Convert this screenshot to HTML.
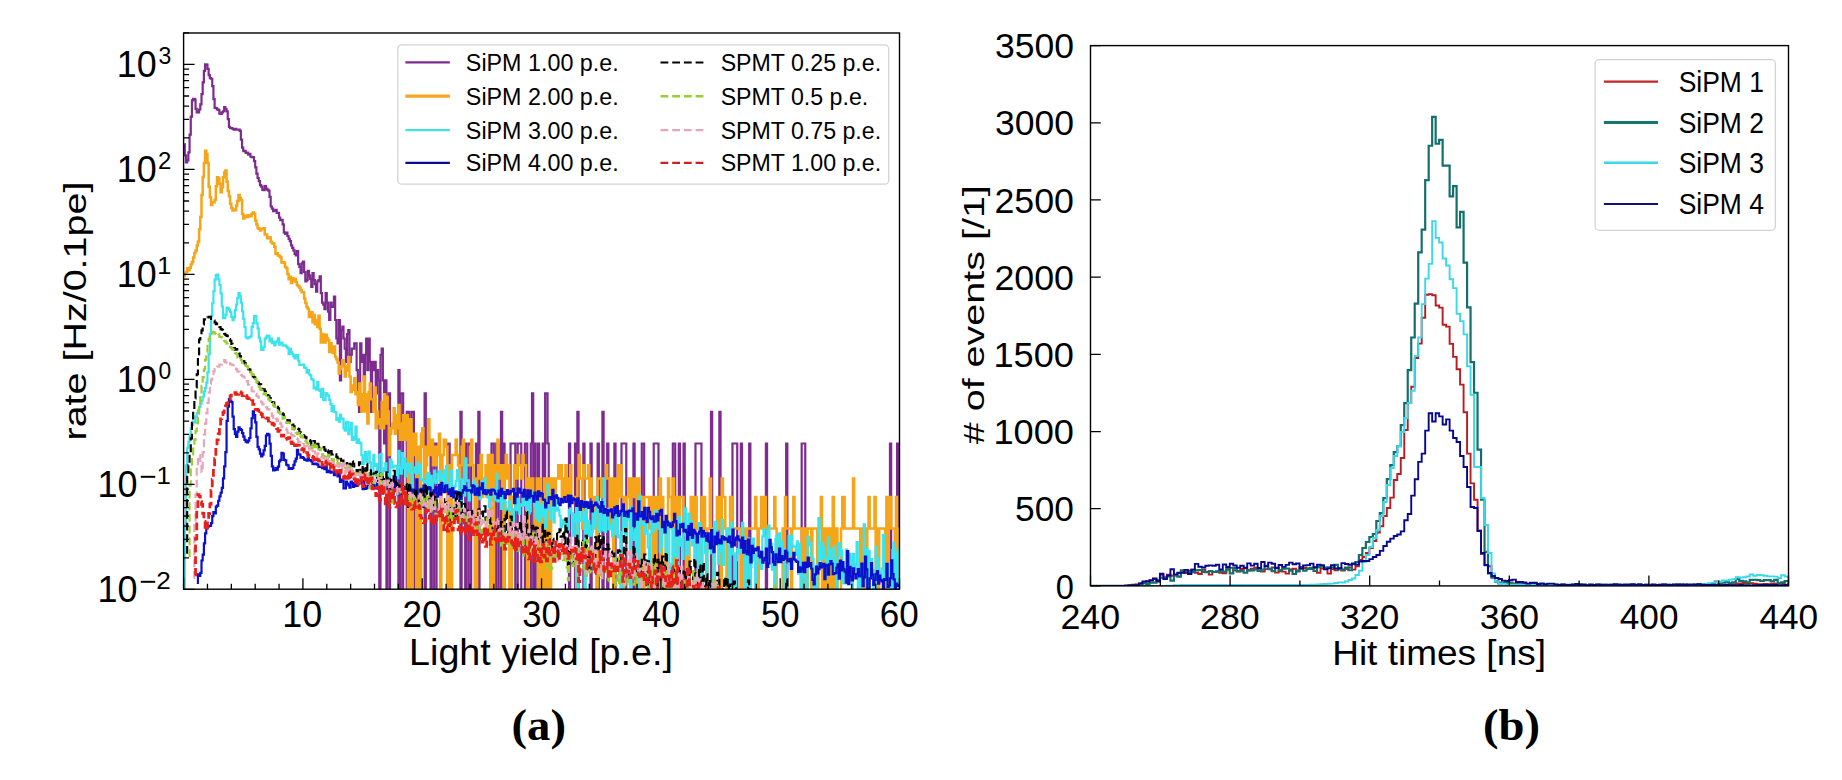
<!DOCTYPE html><html><head><meta charset="utf-8"><title>Figure</title><style>html,body{margin:0;padding:0;background:#fff;}svg{display:block;}</style></head><body><svg width="1842" height="780" viewBox="0 0 1842 780">
<rect x="0" y="0" width="1842" height="780" fill="#fff"/>
<defs><clipPath id="cl"><rect x="183.6" y="33.0" width="715.9" height="556.2"/></clipPath><clipPath id="cr"><rect x="1090.5" y="45.6" width="698.0" height="540.3"/></clipPath></defs>
<g clip-path="url(#cl)" fill="none" stroke-linejoin="miter" stroke-linecap="butt">
<path d="M184.40,144.11H184.79V155.31H185.99V162.36H187.18V160.29H188.37V152.35H189.57V134.70H190.76V116.59H191.95V100.36H193.15V98.86H194.34V99.36H195.53V108.82H196.73V112.46H197.92V112.49H199.11V109.48H200.30V104.37H201.50V94.12H202.69V82.39H203.88V70.86H205.08V64.47H206.27V64.67H207.46V68.94H208.66V75.16H209.85V78.12H211.04V78.73H212.24V86.06H213.43V99.21H214.62V107.80H215.82V108.18H217.01V109.35H218.20V109.95H219.40V113.69H220.59V113.85H221.78V112.36H222.98V111.25H224.17V106.99H225.36V109.01H226.56V111.40H227.75V119.22H228.94V126.90H230.13V128.08H231.33V128.11H232.52V128.99H233.71V129.54H234.91V128.75H236.10V129.51H237.29V129.69H238.49V129.63H239.68V130.94H240.87V139.64H242.07V147.63H243.26V151.03H244.45V150.80H245.65V152.99H246.84V152.67H248.03V154.71H249.23V153.76H250.42V156.77H251.61V157.09H252.81V157.02H254.00V161.12H255.19V167.43H256.39V173.59H257.58V178.01H258.77V181.16H259.96V185.18H261.16V186.69H262.35V189.90H263.54V190.17H264.74V186.20H265.93V188.51H267.12V189.53H268.32V190.57H269.51V196.80H270.70V206.48H271.90V208.56H273.09V211.20H274.28V210.49H275.48V209.73H276.67V212.83H277.86V212.73H279.06V217.61H280.25V220.07H281.44V219.85H282.64V224.29H283.83V232.44H285.02V233.95H286.22V232.71H287.41V236.02H288.60V238.93H289.79V241.15H290.99V245.36H292.18V247.85H293.37V250.42H294.57V253.85H295.76V255.30H296.95V251.09H298.15V264.21H299.34V266.97H300.53V273.06H301.73V263.32H302.92V261.60H304.11V271.99H305.31V281.37H306.50V280.09H307.69V270.94H308.89V275.28H310.08V278.84H311.27V286.91H312.47V273.06H313.66V280.09H314.85V284.06H316.05V291.55H317.24V281.37H318.43V280.09H319.62V276.44H320.82V293.21H322.01V302.55H323.20V304.67H324.40V309.23H325.59V293.21H326.78V302.55H327.98V311.70H329.17V320.01H330.36V302.55H331.56V306.89H332.75V306.89H333.94V296.72H335.14V320.01H336.33V338.50H337.52V343.30H338.72V320.01H339.91V380.28H341.10V330.19H342.30V326.54H343.49V338.50H344.68V348.68H345.88V361.79H347.07V334.15H348.26V330.19H349.45V361.79H350.65V354.76H351.84V348.68H353.03V348.68H354.23V343.30H355.42V343.30H356.61V370.11H357.81V393.40H359.00V411.89H360.19V343.30H361.39V361.79H362.58V354.76H363.77V380.28H364.97V354.76H366.16V338.50H367.35V370.11H368.55V338.50H369.74V361.79H370.93V411.89H372.13V361.79H373.32V370.11H374.51V361.79H375.71V393.40H376.90V370.11H378.09V380.28H379.28V640.00H380.48V354.76H381.67V348.68H382.86V380.28H384.06V443.50H385.25V380.28H386.44V640.00H387.64V411.89H388.83V393.40H390.02V640.00H391.22V640.00H392.41V640.00H393.60V640.00H394.80V640.00H395.99V640.00H397.18V640.00H398.38V370.11H399.57V640.00H400.76V393.40H401.96V393.40H403.15V640.00H404.34V640.00H405.54V640.00H406.73V411.89H407.92V411.89H409.11V640.00H410.31V640.00H411.50V411.89H412.69V411.89H413.89V640.00H415.08V640.00H416.27V640.00H417.47V640.00H418.66V640.00H419.85V640.00H421.05V640.00H422.24V640.00H423.43V640.00H424.63V393.40H425.82V640.00H427.01V640.00H428.21V640.00H429.40V640.00H430.59V443.50H431.79V640.00H432.98V640.00H434.17V443.50H435.37V443.50H436.56V640.00H437.75V640.00H438.94V640.00H440.14V640.00H441.33V640.00H442.52V640.00H443.72V640.00H444.91V640.00H446.10V640.00H447.30V443.50H448.49V443.50H449.68V640.00H450.88V640.00H452.07V640.00H453.26V640.00H454.46V640.00H455.65V640.00H456.84V640.00H458.04V640.00H459.23V640.00H460.42V411.89H461.62V640.00H462.81V640.00H464.00V640.00H465.20V443.50H466.39V640.00H467.58V640.00H468.77V443.50H469.97V443.50H471.16V640.00H472.35V640.00H473.55V640.00H474.74V640.00H475.93V443.50H477.13V640.00H478.32V411.89H479.51V640.00H480.71V640.00H481.90V640.00H483.09V640.00H484.29V640.00H485.48V640.00H486.67V640.00H487.87V640.00H489.06V640.00H490.25V640.00H491.45V443.50H492.64V443.50H493.83V640.00H495.03V640.00H496.22V443.50H497.41V443.50H498.60V640.00H499.80V640.00H500.99V411.89H502.18V640.00H503.38V443.50H504.57V640.00H505.76V640.00H506.96V640.00H508.15V640.00H509.34V640.00H510.54V443.50H511.73V443.50H512.92V443.50H514.12V443.50H515.31V640.00H516.50V640.00H517.70V443.50H518.89V443.50H520.08V443.50H521.28V640.00H522.47V640.00H523.66V640.00H524.86V443.50H526.05V443.50H527.24V640.00H528.43V640.00H529.63V640.00H530.82V443.50H532.01V393.40H533.21V640.00H534.40V443.50H535.59V640.00H536.79V640.00H537.98V443.50H539.17V640.00H540.37V640.00H541.56V640.00H542.75V443.50H543.95V640.00H545.14V393.40H546.33V393.40H547.53V443.50H548.72V640.00H549.91V640.00H551.11V640.00H552.30V640.00H553.49V640.00H554.69V640.00H555.88V640.00H557.07V640.00H558.26V640.00H559.46V640.00H560.65V640.00H561.84V640.00H563.04V640.00H564.23V640.00H565.42V640.00H566.62V640.00H567.81V640.00H569.00V443.50H570.20V640.00H571.39V640.00H572.58V640.00H573.78V640.00H574.97V443.50H576.16V640.00H577.36V411.89H578.55V640.00H579.74V640.00H580.94V640.00H582.13V640.00H583.32V443.50H584.52V640.00H585.71V640.00H586.90V640.00H588.09V640.00H589.29V640.00H590.48V443.50H591.67V640.00H592.87V640.00H594.06V640.00H595.25V640.00H596.45V640.00H597.64V443.50H598.83V640.00H600.03V640.00H601.22V640.00H602.41V411.89H603.61V640.00H604.80V640.00H605.99V640.00H607.19V443.50H608.38V640.00H609.57V640.00H610.77V640.00H611.96V640.00H613.15V640.00H614.35V443.50H615.54V640.00H616.73V640.00H617.92V640.00H619.12V640.00H620.31V640.00H621.50V443.50H622.70V443.50H623.89V443.50H625.08V443.50H626.28V640.00H627.47V640.00H628.66V640.00H629.86V640.00H631.05V640.00H632.24V640.00H633.44V443.50H634.63V640.00H635.82V640.00H637.02V640.00H638.21V640.00H639.40V640.00H640.60V640.00H641.79V443.50H642.98V443.50H644.18V640.00H645.37V640.00H646.56V640.00H647.75V640.00H648.95V640.00H650.14V640.00H651.33V640.00H652.53V640.00H653.72V443.50H654.91V443.50H656.11V443.50H657.30V443.50H658.49V640.00H659.69V640.00H660.88V640.00H662.07V640.00H663.27V640.00H664.46V640.00H665.65V640.00H666.85V640.00H668.04V640.00H669.23V640.00H670.43V640.00H671.62V640.00H672.81V443.50H674.01V443.50H675.20V640.00H676.39V640.00H677.58V640.00H678.78V443.50H679.97V640.00H681.16V640.00H682.36V640.00H683.55V443.50H684.74V640.00H685.94V640.00H687.13V640.00H688.32V640.00H689.52V640.00H690.71V640.00H691.90V640.00H693.10V640.00H694.29V640.00H695.48V443.50H696.68V443.50H697.87V443.50H699.06V443.50H700.26V443.50H701.45V640.00H702.64V640.00H703.84V640.00H705.03V640.00H706.22V640.00H707.41V640.00H708.61V640.00H709.80V640.00H710.99V411.89H712.19V640.00H713.38V640.00H714.57V640.00H715.77V640.00H716.96V640.00H718.15V640.00H719.35V411.89H720.54V640.00H721.73V640.00H722.93V640.00H724.12V640.00H725.31V640.00H726.51V640.00H727.70V640.00H728.89V640.00H730.09V640.00H731.28V640.00H732.47V443.50H733.67V443.50H734.86V443.50H736.05V443.50H737.24V640.00H738.44V640.00H739.63V640.00H740.82V443.50H742.02V640.00H743.21V640.00H744.40V640.00H745.60V640.00H746.79V640.00H747.98V640.00H749.18V443.50H750.37V640.00H751.56V640.00H752.76V640.00H753.95V640.00H755.14V640.00H756.34V640.00H757.53V640.00H758.72V640.00H759.92V640.00H761.11V640.00H762.30V640.00H763.50V640.00H764.69V640.00H765.88V443.50H767.07V640.00H768.27V640.00H769.46V640.00H770.65V640.00H771.85V640.00H773.04V640.00H774.23V640.00H775.43V640.00H776.62V640.00H777.81V640.00H779.01V640.00H780.20V640.00H781.39V640.00H782.59V640.00H783.78V640.00H784.97V640.00H786.17V443.50H787.36V640.00H788.55V640.00H789.75V640.00H790.94V640.00H792.13V640.00H793.33V640.00H794.52V640.00H795.71V640.00H796.90V640.00H798.10V640.00H799.29V640.00H800.48V640.00H801.68V443.50H802.87V443.50H804.06V443.50H805.26V640.00H806.45V640.00H807.64V640.00H808.84V640.00H810.03V640.00H811.22V640.00H812.42V640.00H813.61V640.00H814.80V640.00H816.00V640.00H817.19V640.00H818.38V640.00H819.58V640.00H820.77V640.00H821.96V640.00H823.16V640.00H824.35V640.00H825.54V640.00H826.73V640.00H827.93V640.00H829.12V640.00H830.31V640.00H831.51V640.00H832.70V640.00H833.89V640.00H835.09V640.00H836.28V640.00H837.47V640.00H838.67V640.00H839.86V640.00H841.05V640.00H842.25V640.00H843.44V640.00H844.63V640.00H845.83V640.00H847.02V640.00H848.21V640.00H849.41V640.00H850.60V640.00H851.79V640.00H852.99V640.00H854.18V640.00H855.37V640.00H856.56V640.00H857.76V640.00H858.95V640.00H860.14V640.00H861.34V640.00H862.53V640.00H863.72V640.00H864.92V640.00H866.11V640.00H867.30V640.00H868.50V640.00H869.69V640.00H870.88V640.00H872.08V640.00H873.27V640.00H874.46V640.00H875.66V640.00H876.85V640.00H878.04V640.00H879.24V640.00H880.43V640.00H881.62V640.00H882.82V640.00H884.01V640.00H885.20V640.00H886.39V640.00H887.59V640.00H888.78V640.00H889.97V443.50H891.17V640.00H892.36V640.00H893.55V640.00H894.75V640.00H895.94V640.00H897.13V443.50H898.33V640.00H899.52" stroke="#7e2b90" stroke-width="2.2"/>
<path d="M184.40,276.07H184.79V273.85H185.99V272.05H187.18V268.33H188.37V270.25H189.57V267.76H190.76V264.54H191.95V261.91H193.15V257.61H194.34V253.01H195.53V250.54H196.73V245.52H197.92V241.55H199.11V229.21H200.30V216.82H201.50V195.06H202.69V177.07H203.88V163.03H205.08V150.70H206.27V154.11H207.46V163.03H208.66V186.79H209.85V197.13H211.04V205.12H212.24V202.28H213.43V202.34H214.62V199.67H215.82V186.34H217.01V177.24H218.20V178.59H219.40V183.81H220.59V192.37H221.78V187.13H222.98V177.37H224.17V172.61H225.36V170.59H226.56V181.69H227.75V190.96H228.94V196.19H230.13V203.86H231.33V207.94H232.52V210.54H233.71V209.42H234.91V210.33H236.10V205.44H237.29V200.89H238.49V195.06H239.68V198.26H240.87V200.07H242.07V213.91H243.26V218.50H244.45V215.70H245.65V216.52H246.84V216.88H248.03V215.26H249.23V215.47H250.42V216.19H251.61V213.63H252.81V212.47H254.00V213.71H255.19V220.39H256.39V224.58H257.58V227.97H258.77V228.78H259.96V230.47H261.16V228.94H262.35V228.98H263.54V228.35H264.74V234.62H265.93V234.47H267.12V238.19H268.32V237.33H269.51V237.62H270.70V241.82H271.90V243.29H273.09V243.61H274.28V246.64H275.48V253.90H276.67V253.27H277.86V255.39H279.06V256.01H280.25V257.13H281.44V262.39H282.64V262.27H283.83V262.79H285.02V267.11H286.22V268.30H287.41V273.88H288.60V279.21H289.79V276.74H290.99V283.11H292.18V278.25H293.37V281.02H294.57V278.88H295.76V282.00H296.95V285.17H298.15V286.16H299.34V287.74H300.53V290.20H301.73V292.14H302.92V292.18H304.11V298.60H305.31V303.07H306.50V307.08H307.69V308.63H308.89V316.88H310.08V312.33H311.27V312.15H312.47V322.26H313.66V314.92H314.85V324.13H316.05V319.99H317.24V326.88H318.43V315.84H319.62V328.68H320.82V342.56H322.01V334.12H323.20V335.42H324.40V342.56H325.59V334.76H326.78V338.14H327.98V340.30H329.17V351.97H330.36V343.34H331.56V348.32H332.75V352.93H333.94V346.60H335.14V356.99H336.33V359.16H337.52V362.62H338.72V373.40H339.91V369.06H341.10V366.37H342.30V360.28H343.49V363.84H344.68V376.55H345.88V370.46H347.07V366.37H348.26V356.99H349.45V376.55H350.65V391.89H351.84V385.52H353.03V389.67H354.23V378.21H355.42V394.23H356.61V391.89H357.81V405.01H359.00V383.58H360.19V396.70H361.39V411.54H362.58V394.23H363.77V376.55H364.97V411.54H366.16V394.23H367.35V423.50H368.55V391.89H369.74V383.58H370.93V399.30H372.13V399.30H373.32V411.54H374.51V387.55H375.71V428.30H376.90V411.54H378.09V423.50H379.28V419.15H380.48V428.30H381.67V402.07H382.86V428.30H384.06V394.23H385.25V423.50H386.44V396.70H387.64V411.54H388.83V455.11H390.02V433.68H391.22V428.30H392.41V423.50H393.60V408.16H394.80V433.68H395.99V428.30H397.18V415.19H398.38V405.01H399.57V439.76H400.76V439.76H401.96V423.50H403.15V415.19H404.34V439.76H405.54V423.50H406.73V415.19H407.92V640.00H409.11V423.50H410.31V419.15H411.50V640.00H412.69V433.68H413.89V455.11H415.08V433.68H416.27V640.00H417.47V446.79H418.66V455.11H419.85V640.00H421.05V433.68H422.24V428.30H423.43V446.79H424.63V478.40H425.82V465.28H427.01V446.79H428.21V419.15H429.40V455.11H430.59V455.11H431.79V439.76H432.98V465.28H434.17V446.79H435.37V465.28H436.56V446.79H437.75V455.11H438.94V433.68H440.14V640.00H441.33V478.40H442.52V455.11H443.72V439.76H444.91V439.76H446.10V446.79H447.30V640.00H448.49V640.00H449.68V465.28H450.88V640.00H452.07V455.11H453.26V455.11H454.46V455.11H455.65V439.76H456.84V455.11H458.04V465.28H459.23V478.40H460.42V465.28H461.62V446.79H462.81V439.76H464.00V478.40H465.20V465.28H466.39V465.28H467.58V465.28H468.77V465.28H469.97V446.79H471.16V439.76H472.35V465.28H473.55V478.40H474.74V640.00H475.93V640.00H477.13V478.40H478.32V465.28H479.51V478.40H480.71V455.11H481.90V496.89H483.09V478.40H484.29V478.40H485.48V465.28H486.67V496.89H487.87V455.11H489.06V455.11H490.25V640.00H491.45V455.11H492.64V640.00H493.83V478.40H495.03V465.28H496.22V478.40H497.41V439.76H498.60V478.40H499.80V478.40H500.99V465.28H502.18V496.89H503.38V640.00H504.57V465.28H505.76V455.11H506.96V478.40H508.15V465.28H509.34V640.00H510.54V640.00H511.73V496.89H512.92V496.89H514.12V465.28H515.31V465.28H516.50V478.40H517.70V455.11H518.89V465.28H520.08V465.28H521.28V478.40H522.47V455.11H523.66V465.28H524.86V465.28H526.05V496.89H527.24V640.00H528.43V478.40H529.63V478.40H530.82V496.89H532.01V478.40H533.21V496.89H534.40V528.50H535.59V496.89H536.79V478.40H537.98V640.00H539.17V478.40H540.37V640.00H541.56V496.89H542.75V640.00H543.95V478.40H545.14V496.89H546.33V640.00H547.53V478.40H548.72V478.40H549.91V640.00H551.11V478.40H552.30V478.40H553.49V496.89H554.69V496.89H555.88V478.40H557.07V478.40H558.26V465.28H559.46V478.40H560.65V465.28H561.84V496.89H563.04V478.40H564.23V496.89H565.42V465.28H566.62V496.89H567.81V478.40H569.00V496.89H570.20V465.28H571.39V496.89H572.58V496.89H573.78V496.89H574.97V496.89H576.16V640.00H577.36V478.40H578.55V455.11H579.74V478.40H580.94V478.40H582.13V528.50H583.32V465.28H584.52V478.40H585.71V478.40H586.90V478.40H588.09V465.28H589.29V496.89H590.48V478.40H591.67V496.89H592.87V528.50H594.06V496.89H595.25V496.89H596.45V640.00H597.64V478.40H598.83V478.40H600.03V478.40H601.22V496.89H602.41V478.40H603.61V496.89H604.80V478.40H605.99V465.28H607.19V478.40H608.38V478.40H609.57V528.50H610.77V496.89H611.96V478.40H613.15V640.00H614.35V478.40H615.54V478.40H616.73V528.50H617.92V465.28H619.12V496.89H620.31V465.28H621.50V496.89H622.70V496.89H623.89V528.50H625.08V528.50H626.28V496.89H627.47V496.89H628.66V478.40H629.86V528.50H631.05V478.40H632.24V496.89H633.44V496.89H634.63V478.40H635.82V478.40H637.02V640.00H638.21V478.40H639.40V528.50H640.60V496.89H641.79V640.00H642.98V640.00H644.18V496.89H645.37V496.89H646.56V496.89H647.75V496.89H648.95V528.50H650.14V496.89H651.33V528.50H652.53V640.00H653.72V496.89H654.91V640.00H656.11V528.50H657.30V496.89H658.49V528.50H659.69V478.40H660.88V640.00H662.07V496.89H663.27V528.50H664.46V528.50H665.65V640.00H666.85V528.50H668.04V478.40H669.23V496.89H670.43V496.89H671.62V528.50H672.81V478.40H674.01V496.89H675.20V640.00H676.39V496.89H677.58V528.50H678.78V528.50H679.97V496.89H681.16V496.89H682.36V496.89H683.55V528.50H684.74V528.50H685.94V640.00H687.13V528.50H688.32V640.00H689.52V528.50H690.71V496.89H691.90V496.89H693.10V528.50H694.29V496.89H695.48V496.89H696.68V528.50H697.87V528.50H699.06V640.00H700.26V640.00H701.45V496.89H702.64V528.50H703.84V496.89H705.03V528.50H706.22V640.00H707.41V528.50H708.61V528.50H709.80V478.40H710.99V528.50H712.19V528.50H713.38V640.00H714.57V528.50H715.77V528.50H716.96V496.89H718.15V496.89H719.35V528.50H720.54V640.00H721.73V478.40H722.93V496.89H724.12V496.89H725.31V528.50H726.51V640.00H727.70V640.00H728.89V528.50H730.09V496.89H731.28V496.89H732.47V528.50H733.67V528.50H734.86V528.50H736.05V528.50H737.24V528.50H738.44V528.50H739.63V528.50H740.82V640.00H742.02V640.00H743.21V528.50H744.40V528.50H745.60V640.00H746.79V528.50H747.98V528.50H749.18V528.50H750.37V528.50H751.56V528.50H752.76V528.50H753.95V528.50H755.14V496.89H756.34V528.50H757.53V640.00H758.72V528.50H759.92V528.50H761.11V496.89H762.30V528.50H763.50V528.50H764.69V496.89H765.88V528.50H767.07V528.50H768.27V528.50H769.46V528.50H770.65V528.50H771.85V528.50H773.04V528.50H774.23V496.89H775.43V528.50H776.62V640.00H777.81V640.00H779.01V640.00H780.20V640.00H781.39V640.00H782.59V528.50H783.78V640.00H784.97V496.89H786.17V528.50H787.36V528.50H788.55V528.50H789.75V528.50H790.94V640.00H792.13V528.50H793.33V496.89H794.52V528.50H795.71V528.50H796.90V528.50H798.10V528.50H799.29V528.50H800.48V528.50H801.68V640.00H802.87V528.50H804.06V528.50H805.26V640.00H806.45V640.00H807.64V528.50H808.84V528.50H810.03V528.50H811.22V640.00H812.42V528.50H813.61V528.50H814.80V528.50H816.00V528.50H817.19V640.00H818.38V528.50H819.58V528.50H820.77V496.89H821.96V640.00H823.16V528.50H824.35V528.50H825.54V640.00H826.73V640.00H827.93V528.50H829.12V528.50H830.31V640.00H831.51V640.00H832.70V496.89H833.89V640.00H835.09V640.00H836.28V528.50H837.47V640.00H838.67V640.00H839.86V640.00H841.05V528.50H842.25V496.89H843.44V496.89H844.63V528.50H845.83V528.50H847.02V528.50H848.21V528.50H849.41V528.50H850.60V528.50H851.79V528.50H852.99V478.40H854.18V528.50H855.37V528.50H856.56V528.50H857.76V528.50H858.95V528.50H860.14V640.00H861.34V528.50H862.53V528.50H863.72V640.00H864.92V528.50H866.11V640.00H867.30V528.50H868.50V496.89H869.69V528.50H870.88V528.50H872.08V528.50H873.27V528.50H874.46V496.89H875.66V640.00H876.85V528.50H878.04V640.00H879.24V528.50H880.43V528.50H881.62V528.50H882.82V528.50H884.01V528.50H885.20V640.00H886.39V496.89H887.59V640.00H888.78V528.50H889.97V496.89H891.17V528.50H892.36V528.50H893.55V528.50H894.75V640.00H895.94V496.89H897.13V528.50H898.33V640.00H899.52" stroke="#f6a519" stroke-width="2.5"/>
<path d="M184.60,590.84H184.79V525.25H185.99V465.24H187.18V447.81H188.37V441.95H189.57V436.19H190.76V428.60H191.95V425.12H193.15V421.59H194.34V422.40H195.53V416.65H196.73V413.16H197.92V410.26H199.11V406.95H200.30V403.64H201.50V400.50H202.69V396.76H203.88V391.60H205.08V388.15H206.27V382.59H207.46V372.47H208.66V354.29H209.85V333.83H211.04V315.82H212.24V303.30H213.43V291.13H214.62V279.58H215.82V275.11H217.01V274.50H218.20V279.11H219.40V284.98H220.59V293.40H221.78V306.48H222.98V318.22H224.17V318.18H225.36V314.69H226.56V307.54H227.75V308.44H228.94V309.66H230.13V312.02H231.33V316.78H232.52V320.16H233.71V317.28H234.91V310.22H236.10V304.72H237.29V298.16H238.49V292.98H239.68V295.97H240.87V302.67H242.07V311.32H243.26V318.94H244.45V327.10H245.65V337.27H246.84V338.42H248.03V337.71H249.23V337.20H250.42V336.31H251.61V326.83H252.81V323.17H254.00V316.17H255.19V316.11H256.39V323.41H257.58V328.32H258.77V337.63H259.96V341.29H261.16V349.90H262.35V349.85H263.54V346.96H264.74V338.60H265.93V337.45H267.12V335.69H268.32V336.02H269.51V341.41H270.70V338.61H271.90V343.04H273.09V341.49H274.28V345.49H275.48V342.51H276.67V341.45H277.86V338.43H279.06V344.72H280.25V342.50H281.44V342.76H282.64V345.39H283.83V345.57H285.02V345.28H286.22V346.72H287.41V348.14H288.60V354.13H289.79V348.95H290.99V352.07H292.18V353.87H293.37V356.32H294.57V358.34H295.76V355.16H296.95V355.15H298.15V360.57H299.34V364.82H300.53V364.91H301.73V364.75H302.92V364.59H304.11V367.62H305.31V367.97H306.50V372.56H307.69V369.98H308.89V374.25H310.08V375.37H311.27V379.01H312.47V379.93H313.66V388.39H314.85V387.25H316.05V389.72H317.24V381.82H318.43V389.28H319.62V390.93H320.82V396.84H322.01V388.86H323.20V399.96H324.40V400.14H325.59V393.18H326.78V394.65H327.98V395.67H329.17V399.78H330.36V404.14H331.56V411.21H332.75V406.19H333.94V411.83H335.14V412.18H336.33V419.98H337.52V418.00H338.72V421.69H339.91V414.63H341.10V419.21H342.30V418.52H343.49V428.33H344.68V430.70H345.88V422.43H347.07V421.91H348.26V434.27H349.45V429.45H350.65V422.84H351.84V439.83H353.03V436.90H354.23V439.58H355.42V426.52H356.61V442.98H357.81V439.41H359.00V442.42H360.19V443.04H361.39V455.08H362.58V464.08H363.77V457.59H364.97V452.15H366.16V461.74H367.35V454.45H368.55V451.57H369.74V462.37H370.93V475.68H372.13V476.87H373.32V454.90H374.51V466.02H375.71V463.88H376.90V476.06H378.09V472.00H379.28V455.00H380.48V453.99H381.67V474.37H382.86V470.95H384.06V468.00H385.25V463.33H386.44V472.88H387.64V472.15H388.83V476.66H390.02V459.34H391.22V461.95H392.41V467.60H393.60V465.76H394.80V466.00H395.99V466.52H397.18V478.26H398.38V450.85H399.57V467.51H400.76V473.67H401.96V453.21H403.15V468.03H404.34V458.52H405.54V476.45H406.73V464.14H407.92V465.21H409.11V472.42H410.31V463.69H411.50V491.69H412.69V472.54H413.89V471.39H415.08V467.32H416.27V473.91H417.47V462.24H418.66V472.09H419.85V465.13H421.05V478.98H422.24V481.04H423.43V481.05H424.63V482.51H425.82V474.43H427.01V487.27H428.21V472.85H429.40V493.52H430.59V475.94H431.79V488.14H432.98V480.78H434.17V470.53H435.37V483.02H436.56V480.40H437.75V473.83H438.94V471.23H440.14V478.90H441.33V480.38H442.52V475.19H443.72V470.34H444.91V484.36H446.10V466.15H447.30V489.52H448.49V490.54H449.68V482.78H450.88V471.13H452.07V491.13H453.26V488.40H454.46V486.41H455.65V481.02H456.84V470.03H458.04V474.45H459.23V490.70H460.42V511.12H461.62V479.43H462.81V488.58H464.00V495.53H465.20V458.32H466.39V480.53H467.58V480.47H468.77V500.49H469.97V488.63H471.16V488.06H472.35V488.19H473.55V480.25H474.74V492.94H475.93V484.96H477.13V494.85H478.32V491.07H479.51V499.23H480.71V488.11H481.90V481.07H483.09V483.17H484.29V478.41H485.48V491.56H486.67V496.40H487.87V497.49H489.06V507.11H490.25V489.75H491.45V488.76H492.64V488.75H493.83V497.36H495.03V500.27H496.22V474.12H497.41V501.32H498.60V499.64H499.80V490.89H500.99V508.96H502.18V490.94H503.38V494.94H504.57V501.75H505.76V512.16H506.96V508.23H508.15V510.63H509.34V500.96H510.54V507.99H511.73V516.03H512.92V522.05H514.12V509.12H515.31V498.67H516.50V510.22H517.70V497.16H518.89V513.61H520.08V504.33H521.28V505.66H522.47V492.82H523.66V505.42H524.86V498.22H526.05V509.74H527.24V498.45H528.43V513.69H529.63V511.26H530.82V492.20H532.01V501.70H533.21V501.55H534.40V505.99H535.59V518.15H536.79V502.04H537.98V519.98H539.17V521.56H540.37V506.24H541.56V503.93H542.75V516.35H543.95V507.85H545.14V527.94H546.33V508.21H547.53V484.56H548.72V509.77H549.91V518.73H551.11V507.90H552.30V496.65H553.49V522.35H554.69V495.21H555.88V510.70H557.07V507.93H558.26V509.82H559.46V515.91H560.65V527.23H561.84V524.11H563.04V520.14H564.23V522.08H565.42V530.89H566.62V518.72H567.81V532.06H569.00V510.07H570.20V508.31H571.39V513.43H572.58V535.76H573.78V514.32H574.97V521.83H576.16V506.29H577.36V640.00H578.55V508.87H579.74V520.79H580.94V518.80H582.13V520.41H583.32V511.79H584.52V640.00H585.71V501.55H586.90V535.89H588.09V520.89H589.29V525.64H590.48V535.64H591.67V531.74H592.87V512.33H594.06V527.82H595.25V512.87H596.45V497.04H597.64V524.64H598.83V531.86H600.03V502.07H601.22V517.48H602.41V530.42H603.61V478.58H604.80V531.93H605.99V516.68H607.19V508.80H608.38V529.44H609.57V524.87H610.77V526.56H611.96V536.50H613.15V511.67H614.35V515.76H615.54V534.17H616.73V511.79H617.92V537.38H619.12V535.46H620.31V640.00H621.50V532.08H622.70V510.33H623.89V523.07H625.08V538.57H626.28V514.45H627.47V519.71H628.66V513.60H629.86V640.00H631.05V507.51H632.24V533.32H633.44V539.92H634.63V529.35H635.82V556.01H637.02V514.07H638.21V640.00H639.40V495.74H640.60V518.07H641.79V524.73H642.98V522.91H644.18V533.82H645.37V523.06H646.56V530.83H647.75V547.45H648.95V640.00H650.14V534.03H651.33V517.57H652.53V531.20H653.72V523.32H654.91V511.16H656.11V527.56H657.30V520.79H658.49V528.39H659.69V552.12H660.88V546.74H662.07V524.48H663.27V526.80H664.46V524.02H665.65V552.98H666.85V520.99H668.04V522.21H669.23V640.00H670.43V566.49H671.62V563.65H672.81V529.33H674.01V556.32H675.20V535.19H676.39V531.88H677.58V640.00H678.78V516.76H679.97V545.70H681.16V538.94H682.36V558.81H683.55V534.31H684.74V508.36H685.94V534.99H687.13V554.57H688.32V513.52H689.52V540.30H690.71V521.26H691.90V545.34H693.10V538.21H694.29V561.84H695.48V534.33H696.68V537.30H697.87V640.00H699.06V523.11H700.26V541.89H701.45V640.00H702.64V531.63H703.84V535.35H705.03V552.91H706.22V640.00H707.41V536.53H708.61V538.64H709.80V540.48H710.99V553.08H712.19V542.13H713.38V640.00H714.57V521.83H715.77V523.19H716.96V535.81H718.15V563.60H719.35V551.75H720.54V540.20H721.73V520.16H722.93V564.94H724.12V537.01H725.31V538.52H726.51V528.57H727.70V541.32H728.89V640.00H730.09V537.04H731.28V522.85H732.47V554.40H733.67V553.29H734.86V640.00H736.05V560.09H737.24V548.74H738.44V553.33H739.63V539.91H740.82V548.67H742.02V522.74H743.21V536.74H744.40V640.00H745.60V640.00H746.79V548.50H747.98V538.30H749.18V640.00H750.37V567.01H751.56V560.55H752.76V538.50H753.95V554.43H755.14V640.00H756.34V562.83H757.53V552.08H758.72V556.59H759.92V550.77H761.11V569.02H762.30V536.34H763.50V528.83H764.69V536.21H765.88V558.95H767.07V530.85H768.27V525.62H769.46V550.24H770.65V543.87H771.85V569.62H773.04V551.76H774.23V640.00H775.43V539.17H776.62V535.71H777.81V551.87H779.01V533.45H780.20V554.07H781.39V541.57H782.59V549.17H783.78V640.00H784.97V640.00H786.17V640.00H787.36V564.78H788.55V535.75H789.75V554.93H790.94V535.85H792.13V545.85H793.33V546.60H794.52V546.70H795.71V554.86H796.90V541.36H798.10V573.83H799.29V543.93H800.48V640.00H801.68V565.44H802.87V568.17H804.06V576.98H805.26V640.00H806.45V640.00H807.64V536.64H808.84V545.55H810.03V542.55H811.22V556.77H812.42V559.10H813.61V640.00H814.80V583.75H816.00V640.00H817.19V564.96H818.38V518.07H819.58V543.65H820.77V559.68H821.96V542.89H823.16V547.35H824.35V557.10H825.54V559.70H826.73V575.51H827.93V537.25H829.12V560.56H830.31V549.40H831.51V561.95H832.70V570.36H833.89V546.34H835.09V569.01H836.28V640.00H837.47V557.78H838.67V543.17H839.86V554.89H841.05V550.42H842.25V583.04H843.44V567.07H844.63V583.45H845.83V549.70H847.02V565.42H848.21V565.50H849.41V553.97H850.60V560.43H851.79V587.58H852.99V554.01H854.18V570.36H855.37V564.70H856.56V542.12H857.76V640.00H858.95V568.17H860.14V602.56H861.34V566.51H862.53V573.18H863.72V524.37H864.92V572.15H866.11V548.63H867.30V640.00H868.50V550.87H869.69V561.24H870.88V559.04H872.08V569.86H873.27V640.00H874.46V640.00H875.66V546.66H876.85V558.07H878.04V571.58H879.24V571.58H880.43V579.06H881.62V568.60H882.82V534.92H884.01V640.00H885.20V567.26H886.39V564.55H887.59V578.81H888.78V569.77H889.97V562.59H891.17V640.00H892.36V550.01H893.55V542.54H894.75V582.01H895.94V551.90H897.13V640.00H898.33V547.30H899.52" stroke="#3ae4ee" stroke-width="2.2"/>
<path d="M196.80,582.91H197.92V574.46H199.11V575.93H200.30V572.81H201.50V560.49H202.69V554.59H203.88V543.33H205.08V533.47H206.27V528.07H207.46V526.73H208.66V525.77H209.85V525.90H211.04V523.19H212.24V516.03H213.43V512.02H214.62V513.41H215.82V506.66H217.01V505.54H218.20V500.74H219.40V496.44H220.59V492.76H221.78V487.91H222.98V478.37H224.17V466.46H225.36V452.22H226.56V420.81H227.75V406.55H228.94V399.05H230.13V400.81H231.33V402.08H232.52V416.72H233.71V429.10H234.91V434.13H236.10V436.92H237.29V431.54H238.49V427.47H239.68V429.12H240.87V429.96H242.07V433.15H243.26V436.69H244.45V439.91H245.65V441.77H246.84V442.29H248.03V440.56H249.23V438.02H250.42V428.33H251.61V418.25H252.81V411.40H254.00V415.01H255.19V422.36H256.39V436.91H257.58V446.81H258.77V449.34H259.96V453.61H261.16V456.39H262.35V454.66H263.54V450.33H264.74V445.90H265.93V435.49H267.12V433.96H268.32V434.61H269.51V443.54H270.70V455.92H271.90V466.28H273.09V470.39H274.28V470.04H275.48V468.03H276.67V469.59H277.86V466.66H279.06V461.32H280.25V459.94H281.44V452.81H282.64V453.61H283.83V459.82H285.02V460.39H286.22V464.73H287.41V465.47H288.60V468.92H289.79V468.22H290.99V468.87H292.18V468.27H293.37V464.94H294.57V461.39H295.76V458.57H296.95V449.78H298.15V454.26H299.34V454.69H300.53V457.58H301.73V457.19H302.92V457.94H304.11V459.59H305.31V459.80H306.50V460.53H307.69V458.42H308.89V460.52H310.08V460.19H311.27V461.41H312.47V464.02H313.66V464.05H314.85V463.71H316.05V464.11H317.24V464.54H318.43V466.91H319.62V466.94H320.82V466.76H322.01V468.18H323.20V466.66H324.40V469.16H325.59V466.57H326.78V472.07H327.98V470.59H329.17V471.35H330.36V472.59H331.56V471.95H332.75V471.96H333.94V475.16H335.14V473.60H336.33V472.19H337.52V476.40H338.72V473.73H339.91V482.00H341.10V479.70H342.30V480.46H343.49V488.46H344.68V488.35H345.88V481.48H347.07V483.52H348.26V485.41H349.45V487.75H350.65V481.65H351.84V482.84H353.03V486.93H354.23V483.83H355.42V485.80H356.61V485.55H357.81V479.65H359.00V480.88H360.19V474.75H361.39V483.28H362.58V489.05H363.77V480.51H364.97V488.92H366.16V488.22H367.35V484.60H368.55V484.89H369.74V485.33H370.93V482.09H372.13V484.27H373.32V485.23H374.51V487.69H375.71V488.45H376.90V483.10H378.09V488.81H379.28V483.21H380.48V485.54H381.67V487.63H382.86V486.40H384.06V486.19H385.25V487.77H386.44V484.99H387.64V484.79H388.83V486.57H390.02V490.91H391.22V487.26H392.41V494.63H393.60V488.73H394.80V477.42H395.99V486.70H397.18V494.45H398.38V488.64H399.57V487.20H400.76V485.79H401.96V493.89H403.15V492.89H404.34V491.86H405.54V491.15H406.73V494.98H407.92V492.80H409.11V485.40H410.31V492.68H411.50V490.54H412.69V489.56H413.89V492.77H415.08V490.13H416.27V479.39H417.47V495.77H418.66V493.91H419.85V489.72H421.05V488.84H422.24V491.06H423.43V485.57H424.63V491.42H425.82V489.49H427.01V489.07H428.21V487.02H429.40V487.95H430.59V494.52H431.79V495.40H432.98V492.38H434.17V490.40H435.37V487.38H436.56V493.28H437.75V496.60H438.94V484.76H440.14V495.07H441.33V482.79H442.52V489.55H443.72V492.26H444.91V485.83H446.10V485.30H447.30V491.63H448.49V494.22H449.68V489.23H450.88V495.94H452.07V488.04H453.26V497.41H454.46V491.32H455.65V491.72H456.84V493.10H458.04V491.98H459.23V497.62H460.42V498.94H461.62V492.73H462.81V490.05H464.00V486.25H465.20V487.79H466.39V490.61H467.58V490.17H468.77V490.35H469.97V490.50H471.16V492.31H472.35V485.36H473.55V486.55H474.74V494.58H475.93V493.48H477.13V488.29H478.32V495.15H479.51V487.70H480.71V489.27H481.90V483.31H483.09V493.35H484.29V490.09H485.48V494.13H486.67V492.75H487.87V490.41H489.06V490.64H490.25V494.63H491.45V489.62H492.64V489.78H493.83V490.75H495.03V493.67H496.22V494.24H497.41V498.14H498.60V490.70H499.80V495.94H500.99V488.78H502.18V493.69H503.38V492.01H504.57V498.27H505.76V494.11H506.96V490.20H508.15V494.24H509.34V493.48H510.54V491.07H511.73V491.28H512.92V488.92H514.12V503.21H515.31V493.29H516.50V496.63H517.70V488.54H518.89V488.97H520.08V492.67H521.28V492.81H522.47V496.58H523.66V489.76H524.86V495.82H526.05V499.70H527.24V490.45H528.43V497.61H529.63V490.53H530.82V495.82H532.01V496.12H533.21V501.68H534.40V492.52H535.59V496.09H536.79V499.72H537.98V491.37H539.17V496.12H540.37V493.01H541.56V493.90H542.75V499.52H543.95V499.83H545.14V507.37H546.33V502.94H547.53V502.84H548.72V497.41H549.91V497.12H551.11V499.07H552.30V489.88H553.49V505.48H554.69V496.61H555.88V495.32H557.07V497.91H558.26V503.36H559.46V505.04H560.65V498.89H561.84V502.28H563.04V500.55H564.23V497.06H565.42V501.85H566.62V501.50H567.81V495.54H569.00V506.13H570.20V495.81H571.39V503.13H572.58V498.27H573.78V499.40H574.97V500.05H576.16V505.82H577.36V498.27H578.55V502.69H579.74V509.79H580.94V501.09H582.13V503.93H583.32V506.90H584.52V502.16H585.71V506.56H586.90V502.26H588.09V507.87H589.29V505.55H590.48V501.78H591.67V511.33H592.87V505.54H594.06V505.01H595.25V502.65H596.45V504.67H597.64V506.37H598.83V507.65H600.03V511.60H601.22V502.16H602.41V506.32H603.61V512.86H604.80V509.01H605.99V510.21H607.19V515.37H608.38V510.47H609.57V511.28H610.77V509.44H611.96V517.28H613.15V514.56H614.35V507.37H615.54V513.01H616.73V506.06H617.92V515.87H619.12V514.37H620.31V511.06H621.50V510.27H622.70V504.47H623.89V515.88H625.08V512.29H626.28V511.70H627.47V516.54H628.66V510.65H629.86V511.25H631.05V511.03H632.24V508.32H633.44V525.53H634.63V514.05H635.82V513.60H637.02V519.57H638.21V501.29H639.40V515.85H640.60V516.40H641.79V512.19H642.98V519.18H644.18V507.92H645.37V517.75H646.56V522.20H647.75V507.85H648.95V511.79H650.14V518.21H651.33V519.17H652.53V516.44H653.72V521.58H654.91V521.32H656.11V513.91H657.30V520.28H658.49V514.84H659.69V511.21H660.88V509.84H662.07V527.11H663.27V521.73H664.46V532.44H665.65V515.73H666.85V521.60H668.04V525.43H669.23V523.35H670.43V527.01H671.62V525.61H672.81V522.14H674.01V513.75H675.20V521.21H676.39V535.37H677.58V530.87H678.78V534.48H679.97V524.69H681.16V527.15H682.36V523.97H683.55V531.04H684.74V529.73H685.94V532.21H687.13V539.59H688.32V526.16H689.52V534.98H690.71V523.90H691.90V537.78H693.10V529.84H694.29V532.24H695.48V533.77H696.68V542.42H697.87V533.65H699.06V531.48H700.26V528.12H701.45V536.64H702.64V530.80H703.84V533.20H705.03V536.32H706.22V540.71H707.41V533.33H708.61V541.64H709.80V548.39H710.99V530.19H712.19V547.03H713.38V552.09H714.57V536.67H715.77V544.13H716.96V532.87H718.15V543.15H719.35V539.48H720.54V543.45H721.73V536.42H722.93V537.20H724.12V539.66H725.31V538.28H726.51V539.05H727.70V541.79H728.89V536.48H730.09V542.57H731.28V546.65H732.47V529.67H733.67V545.38H734.86V539.75H736.05V537.62H737.24V536.41H738.44V539.70H739.63V540.56H740.82V547.67H742.02V537.69H743.21V552.60H744.40V541.06H745.60V551.06H746.79V554.04H747.98V539.48H749.18V554.74H750.37V562.45H751.56V545.74H752.76V552.89H753.95V548.64H755.14V550.45H756.34V549.07H757.53V547.38H758.72V555.98H759.92V557.46H761.11V551.93H762.30V562.56H763.50V560.10H764.69V557.89H765.88V548.58H767.07V566.90H768.27V563.33H769.46V539.78H770.65V547.30H771.85V552.03H773.04V562.26H774.23V564.79H775.43V554.43H776.62V558.56H777.81V562.12H779.01V548.51H780.20V562.13H781.39V556.10H782.59V559.97H783.78V558.66H784.97V550.86H786.17V552.53H787.36V560.39H788.55V561.39H789.75V558.88H790.94V568.95H792.13V558.88H793.33V552.89H794.52V559.67H795.71V561.28H796.90V561.96H798.10V571.90H799.29V567.28H800.48V571.61H801.68V568.63H802.87V562.95H804.06V572.24H805.26V562.72H806.45V566.80H807.64V557.63H808.84V566.19H810.03V563.22H811.22V568.73H812.42V579.91H813.61V584.37H814.80V574.39H816.00V566.70H817.19V573.43H818.38V569.16H819.58V563.04H820.77V567.42H821.96V566.24H823.16V563.79H824.35V579.17H825.54V564.76H826.73V565.33H827.93V574.75H829.12V564.31H830.31V561.06H831.51V563.59H832.70V574.05H833.89V573.49H835.09V573.14H836.28V567.53H837.47V564.32H838.67V578.57H839.86V560.70H841.05V570.44H842.25V562.10H843.44V569.44H844.63V571.64H845.83V582.57H847.02V551.13H848.21V584.15H849.41V566.97H850.60V576.36H851.79V580.49H852.99V568.43H854.18V573.81H855.37V578.46H856.56V573.79H857.76V569.15H858.95V576.49H860.14V576.00H861.34V563.57H862.53V586.03H863.72V577.31H864.92V556.71H866.11V569.30H867.30V589.42H868.50V588.52H869.69V578.32H870.88V563.08H872.08V574.58H873.27V584.92H874.46V579.81H875.66V574.21H876.85V571.16H878.04V583.61H879.24V575.55H880.43V579.91H881.62V581.37H882.82V590.59H884.01V579.19H885.20V579.92H886.39V563.80H887.59V586.94H888.78V585.30H889.97V578.25H891.17V560.39H892.36V574.11H893.55V579.33H894.75V595.59H895.94V583.69H897.13V585.44H898.33V585.78H899.52" stroke="#0a10cc" stroke-width="2.2"/>
<path d="M186.10,552.78H187.18V475.79H188.37V465.44H189.57V453.73H190.76V438.38H191.95V422.82H193.15V410.44H194.34V398.39H195.53V387.49H196.73V374.22H197.92V356.93H199.11V339.52H200.30V333.10H201.50V330.35H202.69V324.43H203.88V319.33H205.08V319.75H206.27V317.98H207.46V317.51H208.66V316.72H209.85V316.79H211.04V319.01H212.24V319.73H213.43V320.52H214.62V322.52H215.82V324.07H217.01V323.49H218.20V326.09H219.40V327.00H220.59V329.13H221.78V329.73H222.98V332.27H224.17V333.71H225.36V334.98H226.56V335.88H227.75V337.95H228.94V339.18H230.13V340.75H231.33V343.80H232.52V344.52H233.71V348.13H234.91V349.55H236.10V349.16H237.29V352.76H238.49V353.45H239.68V356.14H240.87V357.93H242.07V358.09H243.26V361.28H244.45V363.05H245.65V365.80H246.84V365.87H248.03V369.19H249.23V369.51H250.42V371.86H251.61V373.04H252.81V376.53H254.00V377.42H255.19V380.60H256.39V380.70H257.58V382.49H258.77V384.09H259.96V384.41H261.16V386.47H262.35V389.34H263.54V389.34H264.74V391.46H265.93V392.85H267.12V395.06H268.32V396.01H269.51V398.08H270.70V400.33H271.90V401.98H273.09V402.56H274.28V405.84H275.48V405.18H276.67V406.80H277.86V408.24H279.06V412.09H280.25V412.25H281.44V413.14H282.64V414.42H283.83V417.28H285.02V416.87H286.22V417.82H287.41V421.08H288.60V420.27H289.79V422.43H290.99V423.98H292.18V424.67H293.37V426.31H294.57V429.12H295.76V428.15H296.95V428.46H298.15V428.96H299.34V432.09H300.53V433.10H301.73V435.05H302.92V435.33H304.11V436.49H305.31V437.35H306.50V438.40H307.69V440.03H308.89V439.99H310.08V441.38H311.27V444.68H312.47V443.36H313.66V441.02H314.85V446.66H316.05V445.25H317.24V443.93H318.43V447.51H319.62V446.79H320.82V446.44H322.01V447.07H323.20V447.14H324.40V449.59H325.59V452.10H326.78V450.44H327.98V452.50H329.17V455.86H330.36V451.03H331.56V454.47H332.75V454.17H333.94V453.48H335.14V454.27H336.33V456.93H337.52V458.41H338.72V457.10H339.91V458.86H341.10V460.79H342.30V460.54H343.49V463.12H344.68V462.46H345.88V463.14H347.07V467.94H348.26V464.76H349.45V463.74H350.65V466.25H351.84V461.31H353.03V463.83H354.23V468.37H355.42V468.40H356.61V472.36H357.81V467.29H359.00V462.26H360.19V475.91H361.39V473.28H362.58V465.36H363.77V475.77H364.97V470.92H366.16V463.78H367.35V470.19H368.55V470.37H369.74V480.14H370.93V470.24H372.13V473.22H373.32V473.69H374.51V473.79H375.71V471.85H376.90V477.79H378.09V482.55H379.28V481.00H380.48V473.88H381.67V473.23H382.86V480.16H384.06V476.45H385.25V477.34H386.44V472.28H387.64V492.16H388.83V487.21H390.02V477.43H391.22V488.36H392.41V491.40H393.60V470.81H394.80V481.77H395.99V483.21H397.18V489.81H398.38V485.82H399.57V485.69H400.76V487.26H401.96V499.36H403.15V501.81H404.34V486.02H405.54V484.09H406.73V506.85H407.92V484.79H409.11V487.82H410.31V492.13H411.50V495.46H412.69V499.43H413.89V495.98H415.08V488.55H416.27V497.80H417.47V496.72H418.66V507.65H419.85V496.07H421.05V488.00H422.24V490.29H423.43V506.88H424.63V494.40H425.82V484.61H427.01V494.99H428.21V499.23H429.40V507.51H430.59V493.38H431.79V504.97H432.98V506.28H434.17V496.73H435.37V500.59H436.56V514.22H437.75V514.37H438.94V508.97H440.14V505.86H441.33V511.82H442.52V503.51H443.72V504.26H444.91V499.41H446.10V505.83H447.30V505.66H448.49V526.03H449.68V505.74H450.88V516.43H452.07V517.22H453.26V506.99H454.46V517.02H455.65V493.61H456.84V510.21H458.04V516.08H459.23V493.08H460.42V502.38H461.62V518.80H462.81V509.69H464.00V503.96H465.20V509.64H466.39V508.79H467.58V518.52H468.77V516.94H469.97V511.92H471.16V509.45H472.35V514.40H473.55V525.13H474.74V518.23H475.93V520.83H477.13V515.29H478.32V507.04H479.51V511.83H480.71V522.61H481.90V518.84H483.09V511.52H484.29V506.41H485.48V520.12H486.67V517.04H487.87V517.35H489.06V517.92H490.25V523.11H491.45V523.60H492.64V529.27H493.83V529.43H495.03V533.05H496.22V529.32H497.41V520.65H498.60V523.30H499.80V528.09H500.99V522.01H502.18V529.33H503.38V534.62H504.57V519.13H505.76V511.57H506.96V536.21H508.15V526.95H509.34V533.04H510.54V516.51H511.73V542.38H512.92V534.50H514.12V527.65H515.31V526.12H516.50V530.43H517.70V528.44H518.89V527.86H520.08V521.04H521.28V541.84H522.47V531.04H523.66V532.41H524.86V532.95H526.05V511.99H527.24V537.52H528.43V530.40H529.63V531.12H530.82V534.67H532.01V525.81H533.21V542.32H534.40V528.98H535.59V527.48H536.79V528.21H537.98V537.78H539.17V543.48H540.37V531.70H541.56V523.71H542.75V547.60H543.95V528.47H545.14V549.65H546.33V538.52H547.53V532.92H548.72V533.82H549.91V544.45H551.11V548.78H552.30V538.89H553.49V550.00H554.69V561.15H555.88V539.70H557.07V531.03H558.26V532.21H559.46V529.26H560.65V536.76H561.84V536.24H563.04V530.70H564.23V549.01H565.42V518.68H566.62V531.54H567.81V564.58H569.00V555.32H570.20V550.58H571.39V550.25H572.58V563.65H573.78V551.68H574.97V547.42H576.16V534.60H577.36V546.53H578.55V540.16H579.74V540.73H580.94V540.93H582.13V548.05H583.32V545.44H584.52V558.08H585.71V535.78H586.90V548.00H588.09V569.33H589.29V550.77H590.48V563.18H591.67V562.88H592.87V565.12H594.06V559.38H595.25V537.35H596.45V549.40H597.64V548.50H598.83V536.35H600.03V548.21H601.22V540.08H602.41V535.88H603.61V556.37H604.80V553.93H605.99V547.26H607.19V544.69H608.38V549.43H609.57V551.33H610.77V551.48H611.96V555.68H613.15V551.77H614.35V561.17H615.54V563.00H616.73V561.49H617.92V550.41H619.12V551.23H620.31V563.32H621.50V556.53H622.70V558.57H623.89V531.16H625.08V529.03H626.28V563.83H627.47V564.06H628.66V576.56H629.86V569.20H631.05V563.78H632.24V561.73H633.44V545.34H634.63V572.41H635.82V555.44H637.02V568.64H638.21V565.43H639.40V566.59H640.60V574.21H641.79V558.24H642.98V559.75H644.18V554.49H645.37V560.47H646.56V585.13H647.75V561.23H648.95V580.09H650.14V576.12H651.33V575.29H652.53V576.51H653.72V555.04H654.91V572.02H656.11V586.94H657.30V559.86H658.49V567.98H659.69V560.61H660.88V573.02H662.07V556.61H663.27V589.20H664.46V565.69H665.65V552.04H666.85V592.37H668.04V582.86H669.23V577.77H670.43V578.28H671.62V567.93H672.81V569.87H674.01V581.58H675.20V584.23H676.39V584.75H677.58V576.44H678.78V568.63H679.97V572.25H681.16V588.21H682.36V592.51H683.55V571.47H684.74V570.17H685.94V591.20H687.13V585.25H688.32V585.26H689.52V561.48H690.71V573.08H691.90V571.72H693.10V580.73H694.29V558.35H695.48V594.16H696.68V582.84H697.87V584.79H699.06V565.69H700.26V580.02H701.45V596.83H702.64V562.46H703.84V585.44H705.03V590.64H706.22V574.42H707.41V592.98H708.61V579.72H709.80V598.92H710.99V590.97H712.19V587.81H713.38V609.70H714.57V596.05H715.77V602.25H716.96V572.75H718.15V579.74H719.35V598.02H720.54V599.32H721.73V588.26H722.93V598.77H724.12V577.19H725.31V592.93H726.51V577.07H727.70V595.41H728.89V585.96H730.09V584.58H731.28V593.43H732.47V615.04H733.67V581.56H734.86V586.96H736.05V607.47H737.24V590.05H738.44V616.85H739.63V598.76H740.82V597.66H742.02V601.33H743.21V618.42H744.40V605.86H745.60V604.68H746.79V601.98H747.98V580.68H749.18V589.29H750.37V618.19H751.56V610.73H752.76V607.41H753.95V609.46H755.14V595.77H756.34V606.83H757.53V592.44H758.72V608.42H759.92V595.64H761.11V602.12H762.30V610.60H763.50V601.72H764.69V613.88H765.88V612.06H767.07V611.38H768.27V623.44H769.46V590.34H770.65V589.35H771.85V616.37H773.04V620.74H774.23V634.07H775.43V619.48H776.62V620.85H777.81V600.77H779.01V620.87H780.20V620.40H781.39V600.13H782.59V602.52H783.78V612.42H784.97V617.69H786.17V579.37H787.36V616.03H788.55V618.43H789.75V614.01H790.94V619.82H792.13V622.56H793.33V605.43H794.52V623.04H795.71V615.51H796.90V607.65H798.10V621.99H799.29V637.81H800.48V602.69H801.68V600.62H802.87V600.86H804.06V644.66H805.26V618.15H806.45V620.70H807.64V612.21H808.84V610.60H810.03V597.80H811.22V624.41H812.42V625.72H813.61V599.12H814.80V610.56H816.00V614.39H817.19V623.25H818.38V626.73H819.58V637.54H820.77V640.65H821.96V637.33H823.16V640.85H824.35V610.99H825.54V618.57H826.73V639.19H827.93V629.17H829.12V626.17H830.31V602.43H831.51V604.11H832.70V635.43H833.89V631.00H835.09V623.58H836.28V622.42H837.47V606.90H838.67V632.31H839.86V640.50H841.05V648.04H842.25V629.16H843.44V626.36H844.63V615.89H845.83V643.96H847.02V650.01H848.21V622.40H849.41V633.49H850.60V631.33H851.79V623.59H852.99V600.75H854.18V626.56H855.37V638.48H856.56V614.11H857.76V621.60H858.95V592.51H860.14V647.56H861.34V638.39H862.53V633.17H863.72V629.62H864.92V625.46H866.11V632.40H867.30V629.86H868.50V630.84H869.69V633.65H870.88V635.80H872.08V653.12H873.27V617.38H874.46V638.16H875.66V627.76H876.85V621.82H878.04V607.31H879.24V643.25H880.43V624.32H881.62V627.33H882.82V642.20H884.01V623.80H885.20V637.35H886.39V636.38H887.59V647.14H888.78V649.88H889.97V627.59H891.17V649.24H892.36V637.31H893.55V640.18H894.75V636.40H895.94V648.49H897.13V624.88H898.33V642.79H899.52" stroke="#000000" stroke-width="2.15" stroke-dasharray="7.8 3.9"/>
<path d="M188.50,555.88H189.57V485.60H190.76V466.16H191.95V454.46H193.15V447.42H194.34V439.73H195.53V431.20H196.73V423.51H197.92V413.65H199.11V404.97H200.30V395.78H201.50V385.89H202.69V377.19H203.88V369.33H205.08V359.73H206.27V352.37H207.46V343.55H208.66V338.81H209.85V333.68H211.04V333.33H212.24V331.91H213.43V332.39H214.62V333.52H215.82V334.09H217.01V333.38H218.20V334.24H219.40V336.88H220.59V336.88H221.78V339.51H222.98V339.83H224.17V340.73H225.36V341.83H226.56V343.79H227.75V344.37H228.94V346.77H230.13V346.90H231.33V348.55H232.52V349.60H233.71V352.04H234.91V353.00H236.10V353.70H237.29V357.41H238.49V356.92H239.68V358.49H240.87V360.26H242.07V362.72H243.26V362.57H244.45V364.63H245.65V365.86H246.84V366.32H248.03V369.84H249.23V371.73H250.42V372.43H251.61V374.32H252.81V374.80H254.00V376.48H255.19V379.14H256.39V382.16H257.58V383.70H258.77V386.85H259.96V389.35H261.16V390.03H262.35V391.90H263.54V394.14H264.74V393.11H265.93V396.40H267.12V395.39H268.32V399.24H269.51V400.68H270.70V401.61H271.90V402.74H273.09V405.40H274.28V406.71H275.48V408.73H276.67V409.14H277.86V412.06H279.06V411.85H280.25V414.04H281.44V415.38H282.64V418.58H283.83V417.05H285.02V419.65H286.22V422.82H287.41V422.24H288.60V423.02H289.79V426.15H290.99V426.75H292.18V429.22H293.37V428.39H294.57V430.86H295.76V432.60H296.95V434.23H298.15V432.88H299.34V437.08H300.53V435.46H301.73V435.86H302.92V437.72H304.11V440.32H305.31V440.88H306.50V442.79H307.69V443.71H308.89V444.31H310.08V444.35H311.27V448.15H312.47V443.14H313.66V444.64H314.85V447.29H316.05V446.97H317.24V445.75H318.43V449.31H319.62V450.20H320.82V448.25H322.01V454.43H323.20V455.96H324.40V456.66H325.59V454.45H326.78V456.36H327.98V454.89H329.17V458.02H330.36V457.19H331.56V459.94H332.75V459.32H333.94V462.69H335.14V463.08H336.33V464.67H337.52V459.89H338.72V460.20H339.91V465.40H341.10V464.20H342.30V466.93H343.49V467.59H344.68V467.79H345.88V470.60H347.07V470.06H348.26V470.37H349.45V466.59H350.65V475.55H351.84V470.94H353.03V474.75H354.23V472.72H355.42V476.49H356.61V473.25H357.81V474.03H359.00V474.30H360.19V471.82H361.39V472.82H362.58V474.89H363.77V475.53H364.97V472.82H366.16V485.97H367.35V473.81H368.55V476.93H369.74V488.24H370.93V476.57H372.13V482.79H373.32V482.94H374.51V479.95H375.71V475.42H376.90V475.38H378.09V482.38H379.28V484.74H380.48V474.19H381.67V484.69H382.86V481.68H384.06V489.07H385.25V486.42H386.44V482.54H387.64V484.77H388.83V487.47H390.02V494.07H391.22V502.66H392.41V490.59H393.60V490.01H394.80V493.37H395.99V490.69H397.18V494.50H398.38V493.87H399.57V492.51H400.76V489.05H401.96V494.38H403.15V498.69H404.34V495.03H405.54V502.94H406.73V500.56H407.92V495.57H409.11V505.81H410.31V491.44H411.50V503.99H412.69V508.16H413.89V497.57H415.08V498.91H416.27V505.00H417.47V508.20H418.66V503.45H419.85V502.92H421.05V507.14H422.24V504.11H423.43V496.60H424.63V502.72H425.82V504.20H427.01V496.48H428.21V507.56H429.40V501.71H430.59V510.57H431.79V498.51H432.98V502.27H434.17V499.67H435.37V515.84H436.56V516.34H437.75V518.02H438.94V518.62H440.14V515.87H441.33V516.36H442.52V501.70H443.72V514.13H444.91V509.76H446.10V511.34H447.30V506.46H448.49V522.16H449.68V515.79H450.88V506.43H452.07V519.02H453.26V515.96H454.46V510.56H455.65V515.56H456.84V513.11H458.04V504.19H459.23V509.39H460.42V522.47H461.62V521.95H462.81V521.98H464.00V513.37H465.20V517.51H466.39V522.23H467.58V526.76H468.77V517.53H469.97V516.66H471.16V531.34H472.35V524.99H473.55V522.64H474.74V520.84H475.93V521.91H477.13V537.14H478.32V533.68H479.51V525.09H480.71V520.09H481.90V540.08H483.09V539.98H484.29V538.11H485.48V536.25H486.67V518.41H487.87V522.95H489.06V536.08H490.25V530.85H491.45V535.09H492.64V530.28H493.83V529.91H495.03V538.81H496.22V532.76H497.41V536.06H498.60V538.42H499.80V538.77H500.99V545.72H502.18V547.66H503.38V528.74H504.57V536.95H505.76V534.67H506.96V545.11H508.15V532.47H509.34V546.14H510.54V546.05H511.73V545.61H512.92V534.77H514.12V540.71H515.31V534.80H516.50V546.05H517.70V550.60H518.89V532.75H520.08V538.29H521.28V543.64H522.47V541.32H523.66V556.89H524.86V545.05H526.05V548.47H527.24V538.60H528.43V559.13H529.63V549.12H530.82V554.19H532.01V549.38H533.21V532.87H534.40V537.27H535.59V540.06H536.79V554.09H537.98V546.91H539.17V554.64H540.37V553.97H541.56V554.12H542.75V559.82H543.95V554.46H545.14V540.46H546.33V548.49H547.53V567.54H548.72V546.18H549.91V566.04H551.11V568.72H552.30V550.96H553.49V558.85H554.69V545.01H555.88V562.96H557.07V550.65H558.26V546.59H559.46V554.39H560.65V554.16H561.84V553.41H563.04V560.17H564.23V557.45H565.42V553.64H566.62V567.39H567.81V580.05H569.00V560.64H570.20V554.48H571.39V552.34H572.58V566.02H573.78V559.16H574.97V561.78H576.16V544.93H577.36V552.58H578.55V552.60H579.74V571.01H580.94V560.87H582.13V542.00H583.32V568.00H584.52V573.98H585.71V575.82H586.90V540.23H588.09V566.40H589.29V572.51H590.48V571.02H591.67V563.90H592.87V550.32H594.06V562.75H595.25V564.04H596.45V572.36H597.64V573.28H598.83V565.67H600.03V575.78H601.22V558.89H602.41V562.54H603.61V568.73H604.80V574.52H605.99V566.64H607.19V581.14H608.38V573.93H609.57V561.71H610.77V571.52H611.96V562.80H613.15V562.37H614.35V558.31H615.54V584.90H616.73V580.66H617.92V557.45H619.12V583.19H620.31V582.07H621.50V569.87H622.70V578.39H623.89V595.18H625.08V576.89H626.28V578.47H627.47V585.47H628.66V565.11H629.86V563.14H631.05V562.02H632.24V575.14H633.44V584.62H634.63V568.12H635.82V563.42H637.02V579.15H638.21V573.90H639.40V583.77H640.60V576.92H641.79V576.71H642.98V578.00H644.18V579.49H645.37V569.88H646.56V568.56H647.75V595.87H648.95V611.20H650.14V591.83H651.33V564.63H652.53V581.53H653.72V593.42H654.91V565.62H656.11V577.25H657.30V578.33H658.49V573.55H659.69V574.62H660.88V593.43H662.07V579.07H663.27V581.60H664.46V601.35H665.65V575.96H666.85V565.59H668.04V591.52H669.23V605.47H670.43V587.72H671.62V588.97H672.81V573.30H674.01V577.08H675.20V601.41H676.39V599.64H677.58V593.20H678.78V581.15H679.97V575.92H681.16V577.64H682.36V576.63H683.55V594.75H684.74V580.98H685.94V584.15H687.13V596.30H688.32V596.35H689.52V590.35H690.71V594.89H691.90V590.41H693.10V571.23H694.29V590.08H695.48V586.88H696.68V587.83H697.87V594.08H699.06V586.27H700.26V604.55H701.45V590.96H702.64V594.72H703.84V596.74H705.03V592.09H706.22V600.68H707.41V602.16H708.61V601.28H709.80V588.21H710.99V586.59H712.19V589.93H713.38V596.40H714.57V577.95H715.77V588.59H716.96V585.89H718.15V591.03H719.35V588.90H720.54V606.69H721.73V603.39H722.93V608.88H724.12V589.77H725.31V592.25H726.51V597.45H727.70V617.44H728.89V618.05H730.09V595.43H731.28V608.33H732.47V623.94H733.67V592.52H734.86V601.32H736.05V616.63H737.24V611.26H738.44V594.43H739.63V620.01H740.82V615.03H742.02V612.51H743.21V593.53H744.40V604.69H745.60V619.93H746.79V612.04H747.98V615.51H749.18V605.21H750.37V623.31H751.56V606.01H752.76V617.93H753.95V612.18H755.14V599.54H756.34V624.32H757.53V597.09H758.72V602.59H759.92V611.63H761.11V596.39H762.30V592.63H763.50V609.77H764.69V606.92H765.88V608.69H767.07V616.71H768.27V634.56H769.46V608.01H770.65V636.93H771.85V615.09H773.04V611.95H774.23V586.10H775.43V598.05H776.62V616.22H777.81V619.41H779.01V605.72H780.20V617.32H781.39V623.52H782.59V609.10H783.78V598.76H784.97V605.41H786.17V612.45H787.36V618.57H788.55V623.74H789.75V606.94H790.94V616.82H792.13V614.12H793.33V617.32H794.52V628.25H795.71V630.47H796.90V612.97H798.10V611.92H799.29V611.34H800.48V613.24H801.68V614.63H802.87V617.34H804.06V614.25H805.26V608.82H806.45V608.11H807.64V620.64H808.84V644.76H810.03V626.17H811.22V627.35H812.42V624.62H813.61V619.76H814.80V641.65H816.00V618.74H817.19V612.38H818.38V610.02H819.58V624.50H820.77V612.92H821.96V614.41H823.16V614.70H824.35V610.49H825.54V625.59H826.73V607.36H827.93V647.26H829.12V597.04H830.31V610.99H831.51V625.84H832.70V629.67H833.89V622.33H835.09V628.89H836.28V628.08H837.47V627.88H838.67V632.75H839.86V629.62H841.05V626.47H842.25V626.33H843.44V636.86H844.63V626.44H845.83V634.27H847.02V644.65H848.21V632.97H849.41V641.46H850.60V625.33H851.79V632.64H852.99V635.28H854.18V632.75H855.37V635.50H856.56V645.02H857.76V628.04H858.95V624.74H860.14V634.97H861.34V617.35H862.53V632.03H863.72V644.33H864.92V632.54H866.11V638.37H867.30V636.99H868.50V645.43H869.69V638.72H870.88V635.95H872.08V600.86H873.27V629.17H874.46V641.74H875.66V633.42H876.85V627.59H878.04V644.35H879.24V626.69H880.43V632.33H881.62V642.80H882.82V631.03H884.01V638.13H885.20V636.45H886.39V624.85H887.59V631.80H888.78V633.63H889.97V631.03H891.17V648.66H892.36V637.73H893.55V631.79H894.75V624.51H895.94V635.42H897.13V651.98H898.33V636.06H899.52" stroke="#9acd32" stroke-width="2.15" stroke-dasharray="7.8 3.9"/>
<path d="M193.50,577.86H194.34V523.21H195.53V494.60H196.73V467.49H197.92V458.97H199.11V455.06H200.30V462.01H201.50V472.26H202.69V452.27H203.88V434.69H205.08V423.65H206.27V413.06H207.46V402.91H208.66V392.57H209.85V383.96H211.04V379.62H212.24V374.27H213.43V371.31H214.62V368.96H215.82V368.26H217.01V366.62H218.20V366.71H219.40V364.69H220.59V364.73H221.78V363.45H222.98V361.98H224.17V360.17H225.36V362.27H226.56V363.19H227.75V363.84H228.94V363.05H230.13V364.42H231.33V364.54H232.52V365.20H233.71V367.63H234.91V367.48H236.10V369.43H237.29V371.51H238.49V371.67H239.68V373.38H240.87V374.90H242.07V376.20H243.26V376.51H244.45V378.88H245.65V381.34H246.84V381.12H248.03V384.86H249.23V385.95H250.42V387.01H251.61V390.85H252.81V391.38H254.00V391.28H255.19V393.88H256.39V395.85H257.58V396.73H258.77V399.02H259.96V399.90H261.16V402.09H262.35V404.33H263.54V403.91H264.74V406.21H265.93V407.08H267.12V409.13H268.32V409.37H269.51V411.44H270.70V413.30H271.90V415.87H273.09V417.61H274.28V416.65H275.48V418.47H276.67V421.12H277.86V419.61H279.06V422.37H280.25V423.94H281.44V426.57H282.64V427.17H283.83V427.27H285.02V428.42H286.22V429.74H287.41V432.83H288.60V431.71H289.79V432.89H290.99V434.67H292.18V435.17H293.37V436.12H294.57V436.09H295.76V438.40H296.95V438.93H298.15V441.88H299.34V442.31H300.53V442.43H301.73V444.22H302.92V443.88H304.11V446.60H305.31V446.16H306.50V447.87H307.69V446.26H308.89V449.43H310.08V447.49H311.27V447.87H312.47V451.28H313.66V451.24H314.85V453.53H316.05V457.44H317.24V453.42H318.43V454.44H319.62V456.47H320.82V457.65H322.01V457.27H323.20V457.93H324.40V460.18H325.59V460.60H326.78V458.61H327.98V460.99H329.17V461.88H330.36V460.56H331.56V463.63H332.75V462.21H333.94V466.32H335.14V465.51H336.33V465.98H337.52V465.32H338.72V466.91H339.91V463.81H341.10V466.21H342.30V469.87H343.49V463.25H344.68V472.66H345.88V465.26H347.07V473.41H348.26V468.89H349.45V474.50H350.65V472.92H351.84V467.95H353.03V477.59H354.23V478.77H355.42V474.18H356.61V473.94H357.81V474.80H359.00V472.40H360.19V480.24H361.39V474.83H362.58V477.08H363.77V474.81H364.97V475.88H366.16V473.86H367.35V484.00H368.55V479.06H369.74V483.92H370.93V480.66H372.13V478.31H373.32V480.24H374.51V479.75H375.71V482.55H376.90V481.43H378.09V482.21H379.28V478.07H380.48V480.95H381.67V492.11H382.86V482.43H384.06V481.18H385.25V487.85H386.44V493.19H387.64V480.65H388.83V486.81H390.02V485.30H391.22V480.44H392.41V492.69H393.60V489.57H394.80V490.50H395.99V486.97H397.18V493.35H398.38V488.91H399.57V491.34H400.76V486.92H401.96V486.78H403.15V500.13H404.34V491.19H405.54V495.70H406.73V494.46H407.92V492.79H409.11V492.86H410.31V499.21H411.50V494.77H412.69V495.99H413.89V497.33H415.08V503.90H416.27V501.71H417.47V500.55H418.66V495.90H419.85V491.89H421.05V504.95H422.24V505.49H423.43V499.88H424.63V504.06H425.82V505.83H427.01V506.55H428.21V507.51H429.40V500.25H430.59V511.75H431.79V496.62H432.98V508.97H434.17V507.33H435.37V509.94H436.56V516.17H437.75V514.37H438.94V499.60H440.14V496.85H441.33V511.86H442.52V501.57H443.72V507.88H444.91V513.35H446.10V499.06H447.30V496.67H448.49V511.22H449.68V510.37H450.88V509.05H452.07V511.19H453.26V506.16H454.46V502.59H455.65V511.23H456.84V506.70H458.04V502.96H459.23V516.67H460.42V513.58H461.62V516.93H462.81V508.62H464.00V511.12H465.20V509.38H466.39V510.49H467.58V517.79H468.77V511.97H469.97V519.69H471.16V520.02H472.35V531.34H473.55V509.66H474.74V524.90H475.93V518.97H477.13V519.89H478.32V510.87H479.51V517.80H480.71V526.19H481.90V521.15H483.09V522.67H484.29V520.61H485.48V530.75H486.67V523.27H487.87V508.95H489.06V519.57H490.25V511.28H491.45V502.89H492.64V521.93H493.83V535.18H495.03V526.75H496.22V518.72H497.41V520.74H498.60V535.61H499.80V529.24H500.99V528.88H502.18V528.57H503.38V529.62H504.57V535.48H505.76V534.10H506.96V532.11H508.15V523.49H509.34V535.06H510.54V526.84H511.73V540.12H512.92V523.36H514.12V532.00H515.31V533.35H516.50V524.09H517.70V546.90H518.89V545.42H520.08V531.59H521.28V541.18H522.47V538.67H523.66V516.68H524.86V538.53H526.05V536.60H527.24V538.09H528.43V529.71H529.63V536.23H530.82V537.32H532.01V548.18H533.21V542.06H534.40V539.86H535.59V552.11H536.79V536.41H537.98V538.09H539.17V527.36H540.37V554.20H541.56V549.90H542.75V549.95H543.95V548.42H545.14V544.42H546.33V545.67H547.53V542.36H548.72V543.14H549.91V545.59H551.11V557.66H552.30V550.35H553.49V545.75H554.69V541.89H555.88V541.78H557.07V560.37H558.26V551.80H559.46V548.57H560.65V545.53H561.84V539.58H563.04V548.54H564.23V556.70H565.42V546.54H566.62V548.27H567.81V548.67H569.00V551.80H570.20V537.83H571.39V549.61H572.58V544.72H573.78V559.82H574.97V546.11H576.16V557.95H577.36V566.43H578.55V551.05H579.74V548.92H580.94V556.11H582.13V554.80H583.32V546.55H584.52V559.54H585.71V573.48H586.90V553.99H588.09V554.83H589.29V547.77H590.48V560.14H591.67V546.65H592.87V548.22H594.06V569.78H595.25V550.68H596.45V568.78H597.64V573.14H598.83V562.16H600.03V565.17H601.22V578.19H602.41V559.12H603.61V555.87H604.80V549.29H605.99V562.36H607.19V575.88H608.38V571.50H609.57V554.38H610.77V555.52H611.96V559.10H613.15V566.84H614.35V562.57H615.54V566.84H616.73V567.97H617.92V562.76H619.12V565.54H620.31V568.22H621.50V565.84H622.70V571.75H623.89V585.10H625.08V573.34H626.28V568.59H627.47V552.30H628.66V572.50H629.86V550.43H631.05V555.92H632.24V578.11H633.44V577.05H634.63V569.11H635.82V554.29H637.02V567.66H638.21V565.01H639.40V578.24H640.60V594.54H641.79V574.85H642.98V565.38H644.18V561.85H645.37V573.23H646.56V572.39H647.75V563.03H648.95V576.03H650.14V563.74H651.33V586.78H652.53V586.69H653.72V587.32H654.91V572.13H656.11V582.42H657.30V576.36H658.49V574.20H659.69V575.10H660.88V565.90H662.07V564.87H663.27V587.66H664.46V578.21H665.65V582.69H666.85V590.95H668.04V564.00H669.23V573.90H670.43V583.90H671.62V586.47H672.81V579.19H674.01V593.66H675.20V585.87H676.39V572.04H677.58V575.27H678.78V593.04H679.97V590.03H681.16V566.81H682.36V599.68H683.55V592.59H684.74V600.45H685.94V583.58H687.13V584.87H688.32V576.97H689.52V614.01H690.71V587.29H691.90V605.33H693.10V583.38H694.29V591.90H695.48V573.95H696.68V587.24H697.87V601.32H699.06V579.37H700.26V603.03H701.45V596.11H702.64V582.73H703.84V588.58H705.03V589.43H706.22V593.96H707.41V589.52H708.61V587.04H709.80V592.70H710.99V585.90H712.19V583.71H713.38V596.55H714.57V606.29H715.77V582.60H716.96V598.36H718.15V592.25H719.35V589.41H720.54V608.14H721.73V594.86H722.93V615.45H724.12V593.10H725.31V605.19H726.51V599.48H727.70V594.65H728.89V608.49H730.09V601.50H731.28V609.51H732.47V603.43H733.67V593.48H734.86V603.74H736.05V605.71H737.24V615.21H738.44V596.99H739.63V606.09H740.82V589.69H742.02V613.86H743.21V596.96H744.40V590.14H745.60V608.04H746.79V620.12H747.98V594.24H749.18V599.04H750.37V602.76H751.56V599.14H752.76V614.46H753.95V602.84H755.14V603.93H756.34V617.22H757.53V604.07H758.72V616.19H759.92V602.39H761.11V600.22H762.30V594.23H763.50V631.43H764.69V609.85H765.88V615.73H767.07V613.22H768.27V615.37H769.46V614.51H770.65V633.33H771.85V604.10H773.04V599.15H774.23V604.85H775.43V601.86H776.62V622.91H777.81V623.89H779.01V606.31H780.20V602.25H781.39V612.85H782.59V630.55H783.78V588.68H784.97V622.38H786.17V606.59H787.36V627.99H788.55V607.05H789.75V615.21H790.94V603.24H792.13V608.77H793.33V632.64H794.52V627.23H795.71V615.24H796.90V610.80H798.10V600.80H799.29V616.04H800.48V619.91H801.68V619.61H802.87V619.76H804.06V609.71H805.26V620.51H806.45V621.02H807.64V634.55H808.84V640.55H810.03V620.76H811.22V614.70H812.42V621.95H813.61V616.77H814.80V615.66H816.00V622.73H817.19V613.12H818.38V629.86H819.58V623.00H820.77V626.77H821.96V622.68H823.16V617.48H824.35V615.51H825.54V622.85H826.73V619.98H827.93V628.04H829.12V625.90H830.31V612.56H831.51V627.09H832.70V613.23H833.89V620.73H835.09V624.19H836.28V606.62H837.47V628.53H838.67V629.36H839.86V626.51H841.05V624.09H842.25V624.83H843.44V619.04H844.63V626.35H845.83V623.76H847.02V630.44H848.21V617.72H849.41V632.36H850.60V631.67H851.79V629.06H852.99V626.32H854.18V636.48H855.37V614.55H856.56V636.04H857.76V634.10H858.95V634.74H860.14V635.98H861.34V625.85H862.53V630.03H863.72V639.23H864.92V637.41H866.11V635.41H867.30V618.44H868.50V639.20H869.69V645.75H870.88V644.39H872.08V636.87H873.27V619.20H874.46V644.44H875.66V633.78H876.85V610.16H878.04V639.50H879.24V621.04H880.43V623.24H881.62V630.09H882.82V649.41H884.01V633.21H885.20V639.87H886.39V654.88H887.59V653.58H888.78V636.84H889.97V635.70H891.17V625.74H892.36V631.65H893.55V643.08H894.75V643.03H895.94V640.41H897.13V649.49H898.33V632.06H899.52" stroke="#eaa4b8" stroke-width="2.15" stroke-dasharray="7.8 3.9"/>
<path d="M194.50,574.77H195.53V538.73H196.73V508.07H197.92V494.65H199.11V496.47H200.30V501.56H201.50V504.33H202.69V513.40H203.88V521.44H205.08V529.77H206.27V528.17H207.46V520.69H208.66V513.49H209.85V504.21H211.04V490.50H212.24V479.48H213.43V467.31H214.62V458.71H215.82V447.10H217.01V439.88H218.20V433.79H219.40V427.08H220.59V418.93H221.78V416.29H222.98V412.52H224.17V409.03H225.36V406.02H226.56V403.51H227.75V399.06H228.94V399.34H230.13V396.01H231.33V393.51H232.52V393.84H233.71V394.27H234.91V392.69H236.10V394.34H237.29V394.35H238.49V392.67H239.68V391.84H240.87V393.27H242.07V395.66H243.26V394.50H244.45V394.63H245.65V395.71H246.84V397.73H248.03V398.65H249.23V400.31H250.42V401.36H251.61V400.76H252.81V404.36H254.00V406.50H255.19V409.60H256.39V409.39H257.58V410.18H258.77V413.91H259.96V412.92H261.16V414.30H262.35V416.86H263.54V416.39H264.74V416.70H265.93V417.98H267.12V418.35H268.32V421.22H269.51V420.99H270.70V424.14H271.90V423.22H273.09V424.33H274.28V425.38H275.48V427.73H276.67V428.68H277.86V431.28H279.06V430.69H280.25V432.95H281.44V436.08H282.64V435.17H283.83V437.39H285.02V439.31H286.22V438.95H287.41V438.39H288.60V437.54H289.79V443.28H290.99V441.82H292.18V443.52H293.37V442.28H294.57V445.69H295.76V444.93H296.95V445.40H298.15V445.45H299.34V448.14H300.53V448.29H301.73V449.79H302.92V449.18H304.11V451.79H305.31V453.82H306.50V452.73H307.69V455.24H308.89V456.79H310.08V456.16H311.27V456.43H312.47V457.14H313.66V460.09H314.85V456.89H316.05V459.26H317.24V459.58H318.43V460.98H319.62V461.15H320.82V459.97H322.01V465.66H323.20V463.10H324.40V461.13H325.59V462.62H326.78V465.07H327.98V466.74H329.17V463.99H330.36V468.44H331.56V465.36H332.75V467.16H333.94V471.00H335.14V473.39H336.33V470.70H337.52V470.83H338.72V474.53H339.91V470.45H341.10V473.73H342.30V474.21H343.49V478.30H344.68V475.96H345.88V474.19H347.07V478.28H348.26V471.66H349.45V480.15H350.65V474.49H351.84V473.97H353.03V476.75H354.23V479.00H355.42V482.37H356.61V478.90H357.81V483.54H359.00V485.12H360.19V480.90H361.39V477.54H362.58V486.61H363.77V484.27H364.97V473.93H366.16V479.59H367.35V485.35H368.55V478.85H369.74V482.59H370.93V478.25H372.13V488.81H373.32V488.61H374.51V488.85H375.71V495.58H376.90V487.39H378.09V488.24H379.28V500.22H380.48V484.28H381.67V494.98H382.86V485.23H384.06V493.63H385.25V503.80H386.44V494.93H387.64V490.09H388.83V507.06H390.02V492.34H391.22V494.67H392.41V497.97H393.60V489.78H394.80V503.55H395.99V506.91H397.18V502.88H398.38V501.16H399.57V499.13H400.76V505.44H401.96V483.79H403.15V501.06H404.34V503.77H405.54V491.97H406.73V505.91H407.92V503.44H409.11V504.56H410.31V505.91H411.50V509.15H412.69V509.09H413.89V501.36H415.08V507.09H416.27V507.32H417.47V509.15H418.66V506.22H419.85V515.56H421.05V518.04H422.24V519.86H423.43V522.62H424.63V520.91H425.82V510.52H427.01V510.24H428.21V512.06H429.40V518.05H430.59V514.76H431.79V521.70H432.98V525.95H434.17V514.63H435.37V523.12H436.56V515.80H437.75V511.30H438.94V511.76H440.14V517.65H441.33V509.11H442.52V523.28H443.72V529.55H444.91V514.72H446.10V519.95H447.30V531.21H448.49V524.82H449.68V524.43H450.88V522.28H452.07V530.14H453.26V526.55H454.46V518.75H455.65V511.30H456.84V510.20H458.04V529.88H459.23V524.88H460.42V535.18H461.62V530.09H462.81V520.08H464.00V529.53H465.20V535.14H466.39V523.28H467.58V525.92H468.77V539.43H469.97V519.38H471.16V523.57H472.35V536.47H473.55V531.83H474.74V524.31H475.93V522.83H477.13V534.48H478.32V539.27H479.51V537.36H480.71V535.27H481.90V542.05H483.09V535.41H484.29V529.00H485.48V546.34H486.67V527.33H487.87V534.22H489.06V534.95H490.25V544.26H491.45V531.55H492.64V534.82H493.83V526.24H495.03V539.36H496.22V540.48H497.41V542.19H498.60V533.21H499.80V540.66H500.99V534.40H502.18V537.30H503.38V540.19H504.57V548.99H505.76V538.94H506.96V543.16H508.15V537.39H509.34V539.53H510.54V539.18H511.73V542.99H512.92V549.18H514.12V538.04H515.31V549.68H516.50V539.59H517.70V547.92H518.89V542.69H520.08V544.56H521.28V544.31H522.47V554.01H523.66V548.99H524.86V554.48H526.05V545.67H527.24V546.78H528.43V558.91H529.63V538.35H530.82V543.50H532.01V548.23H533.21V561.36H534.40V545.90H535.59V555.23H536.79V560.60H537.98V549.02H539.17V549.66H540.37V561.97H541.56V547.63H542.75V544.57H543.95V557.20H545.14V548.57H546.33V560.82H547.53V556.04H548.72V541.01H549.91V554.79H551.11V553.25H552.30V548.96H553.49V561.07H554.69V541.94H555.88V545.65H557.07V550.99H558.26V559.97H559.46V544.34H560.65V550.71H561.84V550.40H563.04V545.16H564.23V553.08H565.42V548.05H566.62V553.07H567.81V558.40H569.00V550.31H570.20V550.81H571.39V550.22H572.58V551.40H573.78V546.58H574.97V549.52H576.16V558.89H577.36V552.08H578.55V581.65H579.74V552.99H580.94V562.25H582.13V548.52H583.32V557.56H584.52V555.80H585.71V559.39H586.90V569.78H588.09V559.24H589.29V551.98H590.48V561.82H591.67V554.20H592.87V560.58H594.06V573.36H595.25V568.94H596.45V570.19H597.64V566.46H598.83V562.65H600.03V551.70H601.22V559.83H602.41V559.68H603.61V568.92H604.80V571.55H605.99V568.00H607.19V558.77H608.38V578.77H609.57V575.84H610.77V563.87H611.96V567.24H613.15V570.84H614.35V567.07H615.54V565.81H616.73V570.55H617.92V567.15H619.12V568.89H620.31V555.33H621.50V555.60H622.70V581.43H623.89V556.73H625.08V572.39H626.28V571.38H627.47V570.89H628.66V564.08H629.86V577.56H631.05V572.68H632.24V567.57H633.44V559.53H634.63V568.96H635.82V566.33H637.02V561.42H638.21V574.53H639.40V576.38H640.60V578.65H641.79V573.31H642.98V570.70H644.18V581.96H645.37V579.34H646.56V591.85H647.75V578.24H648.95V566.56H650.14V582.10H651.33V593.37H652.53V577.23H653.72V573.90H654.91V570.92H656.11V591.33H657.30V574.88H658.49V574.73H659.69V579.48H660.88V565.97H662.07V575.51H663.27V567.87H664.46V577.22H665.65V582.67H666.85V586.45H668.04V576.00H669.23V586.26H670.43V576.86H671.62V567.07H672.81V585.25H674.01V579.33H675.20V582.20H676.39V560.64H677.58V583.70H678.78V584.32H679.97V584.78H681.16V591.75H682.36V581.13H683.55V601.86H684.74V591.10H685.94V590.26H687.13V566.49H688.32V571.32H689.52V599.73H690.71V591.46H691.90V596.41H693.10V586.52H694.29V589.23H695.48V595.52H696.68V585.10H697.87V602.67H699.06V583.79H700.26V594.96H701.45V591.48H702.64V596.95H703.84V604.57H705.03V586.06H706.22V599.13H707.41V596.92H708.61V603.15H709.80V596.66H710.99V593.36H712.19V601.76H713.38V608.86H714.57V605.16H715.77V600.32H716.96V602.91H718.15V587.60H719.35V596.05H720.54V598.79H721.73V596.94H722.93V596.06H724.12V601.72H725.31V605.74H726.51V618.48H727.70V597.78H728.89V596.54H730.09V612.21H731.28V605.91H732.47V597.99H733.67V617.78H734.86V604.28H736.05V603.77H737.24V601.88H738.44V599.85H739.63V608.44H740.82V600.39H742.02V628.11H743.21V611.55H744.40V607.30H745.60V603.50H746.79V612.14H747.98V618.46H749.18V612.83H750.37V602.01H751.56V609.52H752.76V597.94H753.95V623.28H755.14V617.50H756.34V613.92H757.53V614.84H758.72V608.19H759.92V611.81H761.11V620.90H762.30V613.10H763.50V618.40H764.69V615.69H765.88V616.03H767.07V616.96H768.27V622.98H769.46V612.57H770.65V620.59H771.85V609.07H773.04V610.99H774.23V610.16H775.43V622.96H776.62V613.97H777.81V626.44H779.01V608.73H780.20V620.21H781.39V608.13H782.59V626.60H783.78V612.32H784.97V621.76H786.17V612.84H787.36V612.46H788.55V620.75H789.75V605.34H790.94V609.76H792.13V631.62H793.33V613.20H794.52V626.53H795.71V613.36H796.90V607.36H798.10V617.41H799.29V627.87H800.48V620.98H801.68V619.06H802.87V628.49H804.06V615.81H805.26V627.90H806.45V624.84H807.64V614.36H808.84V630.20H810.03V632.01H811.22V621.30H812.42V624.44H813.61V621.47H814.80V614.96H816.00V630.49H817.19V616.32H818.38V628.82H819.58V620.58H820.77V616.85H821.96V630.20H823.16V627.39H824.35V640.52H825.54V625.43H826.73V627.43H827.93V627.40H829.12V624.71H830.31V637.48H831.51V639.22H832.70V632.88H833.89V619.63H835.09V631.55H836.28V628.66H837.47V624.84H838.67V616.27H839.86V635.99H841.05V638.76H842.25V631.90H843.44V633.29H844.63V643.95H845.83V645.60H847.02V632.14H848.21V607.79H849.41V636.54H850.60V632.30H851.79V636.80H852.99V627.42H854.18V623.78H855.37V636.10H856.56V629.86H857.76V633.30H858.95V636.04H860.14V633.76H861.34V621.66H862.53V637.97H863.72V629.70H864.92V632.14H866.11V637.43H867.30V622.65H868.50V632.35H869.69V620.08H870.88V630.44H872.08V637.81H873.27V634.16H874.46V633.23H875.66V640.26H876.85V632.63H878.04V623.29H879.24V644.73H880.43V638.07H881.62V642.89H882.82V633.53H884.01V633.52H885.20V631.26H886.39V622.01H887.59V633.84H888.78V632.97H889.97V650.60H891.17V622.98H892.36V638.62H893.55V637.12H894.75V638.12H895.94V637.73H897.13V640.88H898.33V646.16H899.52" stroke="#e8201a" stroke-width="2.8" stroke-dasharray="7.8 3.9"/>
</g>
<g clip-path="url(#cr)" fill="none" stroke-linejoin="miter" stroke-linecap="butt">
<path d="M1090.50,585.90H1093.64V585.90H1097.13V585.90H1100.62V585.90H1104.11V585.90H1107.60V585.90H1111.09V585.90H1114.58V585.90H1118.07V585.90H1121.56V585.90H1125.05V585.69H1128.54V585.09H1132.03V584.58H1135.52V584.40H1139.01V583.46H1142.50V582.79H1145.99V580.83H1149.48V580.57H1152.97V578.47H1156.46V581.77H1159.95V574.83H1163.44V577.22H1166.93V574.78H1170.42V575.78H1173.91V575.53H1177.40V572.98H1180.89V571.52H1184.38V573.06H1187.87V572.28H1191.36V569.78H1194.85V572.75H1198.34V574.04H1201.83V569.80H1205.32V572.00H1208.81V574.59H1212.30V572.09H1215.79V571.23H1219.28V572.69H1222.77V573.23H1226.26V569.82H1229.75V567.91H1233.24V570.35H1236.73V571.45H1240.22V569.01H1243.71V568.30H1247.20V570.49H1250.69V568.67H1254.18V567.59H1257.67V570.29H1261.16V571.60H1264.65V569.09H1268.14V569.31H1271.63V567.47H1275.12V572.62H1278.61V571.28H1282.10V571.66H1285.59V573.59H1289.08V569.57H1292.57V568.70H1296.06V571.44H1299.55V566.85H1303.04V568.07H1306.53V568.49H1310.02V568.98H1313.51V567.78H1317.00V572.72H1320.49V568.52H1323.98V568.54H1327.47V573.67H1330.96V569.10H1334.45V570.39H1337.94V568.16H1341.43V570.49H1344.92V568.96H1348.41V567.56H1351.90V569.58H1355.39V566.26H1358.88V560.01H1362.37V557.01H1365.86V553.01H1369.35V548.01H1372.84V541.02H1376.33V532.52H1379.82V526.32H1383.31V516.03H1386.80V507.93H1390.29V497.63H1393.78V480.04H1397.27V474.04H1400.76V458.05H1404.25V430.06H1407.74V403.07H1411.23V386.68H1414.72V357.99H1418.21V343.59H1421.70V317.80H1425.19V294.71H1428.68V294.11H1432.17V295.31H1435.66V305.51H1439.15V307.61H1442.64V324.70H1446.13V326.60H1449.62V343.89H1453.11V356.89H1456.60V369.18H1460.09V384.58H1463.58V412.27H1467.07V453.65H1470.56V483.34H1474.05V499.73H1477.54V530.42H1481.03V554.01H1484.52V565.21H1488.01V566.31H1491.50V577.50H1494.99V581.60H1498.48V582.50H1501.97V582.78H1505.46V582.76H1508.95V583.76H1512.44V583.34H1515.93V583.85H1519.42V584.29H1522.91V584.11H1526.40V584.03H1529.89V584.01H1533.38V585.13H1536.87V584.57H1540.36V584.81H1543.85V585.00H1547.34V585.20H1550.83V584.71H1554.32V585.25H1557.81V584.87H1561.30V584.72H1564.79V585.33H1568.28V585.06H1571.77V585.28H1575.26V584.96H1578.75V584.70H1582.24V584.59H1585.73V585.38H1589.22V585.14H1592.71V584.88H1596.20V584.71H1599.69V584.94H1603.18V585.18H1606.67V584.98H1610.16V585.04H1613.65V585.08H1617.14V585.19H1620.63V584.97H1624.12V584.99H1627.61V585.08H1631.10V585.10H1634.59V585.32H1638.08V585.16H1641.57V584.84H1645.06V585.11H1648.55V585.35H1652.04V584.83H1655.53V584.98H1659.02V584.69H1662.51V585.08H1666.00V585.18H1669.49V585.37H1672.98V584.86H1676.47V584.63H1679.96V585.26H1683.45V585.23H1686.94V585.01H1690.43V585.27H1693.92V585.17H1697.41V585.19H1700.90V585.01H1704.39V584.64H1707.88V584.74H1711.37V584.31H1714.86V584.58H1718.35V584.17H1721.84V585.03H1725.33V584.67H1728.82V583.56H1732.31V584.09H1735.80V583.45H1739.29V583.47H1742.78V583.07H1746.27V583.33H1749.76V583.23H1753.25V583.80H1756.74V584.09H1760.23V584.11H1763.72V583.98H1767.21V584.31H1770.70V584.01H1774.19V583.79H1777.68V583.61H1781.17V583.91H1784.66V584.71H1788.15V583.78H1788.50" stroke="#bb1a1e" stroke-width="1.9"/>
<path d="M1090.50,585.90H1093.64V585.90H1097.13V585.90H1100.62V585.90H1104.11V585.90H1107.60V585.90H1111.09V585.90H1114.58V585.90H1118.07V585.90H1121.56V585.90H1125.05V585.90H1128.54V585.71H1132.03V585.18H1135.52V584.77H1139.01V584.32H1142.50V583.14H1145.99V583.79H1149.48V582.61H1152.97V582.59H1156.46V580.33H1159.95V577.72H1163.44V578.37H1166.93V576.43H1170.42V580.61H1173.91V575.24H1177.40V576.71H1180.89V570.24H1184.38V571.48H1187.87V570.66H1191.36V572.16H1194.85V570.28H1198.34V570.00H1201.83V571.98H1205.32V572.12H1208.81V571.11H1212.30V571.99H1215.79V571.78H1219.28V570.92H1222.77V571.70H1226.26V568.28H1229.75V573.29H1233.24V568.07H1236.73V571.20H1240.22V571.03H1243.71V572.76H1247.20V570.16H1250.69V570.38H1254.18V569.43H1257.67V571.00H1261.16V569.64H1264.65V565.91H1268.14V568.96H1271.63V571.09H1275.12V567.79H1278.61V570.12H1282.10V568.56H1285.59V568.52H1289.08V570.69H1292.57V574.02H1296.06V570.60H1299.55V568.65H1303.04V570.67H1306.53V568.90H1310.02V567.73H1313.51V571.02H1317.00V567.18H1320.49V566.34H1323.98V567.51H1327.47V567.33H1330.96V567.47H1334.45V564.97H1337.94V569.44H1341.43V569.53H1344.92V567.62H1348.41V570.26H1351.90V564.01H1355.39V562.01H1358.88V555.01H1362.37V548.01H1365.86V542.02H1369.35V537.02H1372.84V534.02H1376.33V521.02H1379.82V513.03H1383.31V498.03H1386.80V479.04H1390.29V465.05H1393.78V452.05H1397.27V446.05H1400.76V425.06H1404.25V403.07H1407.74V370.08H1411.23V337.49H1414.72V303.61H1418.21V252.43H1421.70V229.64H1425.19V180.15H1428.68V145.77H1432.17V116.88H1435.66V143.77H1439.15V139.87H1442.64V165.56H1446.13V165.56H1449.62V196.35H1453.11V186.05H1456.60V227.44H1460.09V211.84H1463.58V262.62H1467.07V307.41H1470.56V362.08H1474.05V392.77H1477.54V449.55H1481.03V499.73H1484.52V551.91H1488.01V573.40H1491.50V577.50H1494.99V581.60H1498.48V583.28H1501.97V582.98H1505.46V582.38H1508.95V582.78H1512.44V584.37H1515.93V584.73H1519.42V584.11H1522.91V584.20H1526.40V584.30H1529.89V584.20H1533.38V584.21H1536.87V584.68H1540.36V584.75H1543.85V585.21H1547.34V585.23H1550.83V584.92H1554.32V584.83H1557.81V584.82H1561.30V584.85H1564.79V584.80H1568.28V584.80H1571.77V585.35H1575.26V585.13H1578.75V584.88H1582.24V584.84H1585.73V585.30H1589.22V584.72H1592.71V585.07H1596.20V585.02H1599.69V584.91H1603.18V584.81H1606.67V585.28H1610.16V584.76H1613.65V584.96H1617.14V585.14H1620.63V585.03H1624.12V585.45H1627.61V585.11H1631.10V584.93H1634.59V585.13H1638.08V585.04H1641.57V585.01H1645.06V584.96H1648.55V584.75H1652.04V584.98H1655.53V585.03H1659.02V584.86H1662.51V584.52H1666.00V585.05H1669.49V584.86H1672.98V585.31H1676.47V584.68H1679.96V584.83H1683.45V584.69H1686.94V584.99H1690.43V585.14H1693.92V584.50H1697.41V584.36H1700.90V584.73H1704.39V584.84H1707.88V583.94H1711.37V583.88H1714.86V581.71H1718.35V583.24H1721.84V582.74H1725.33V581.99H1728.82V583.26H1732.31V582.23H1735.80V579.06H1739.29V580.94H1742.78V581.46H1746.27V582.23H1749.76V579.91H1753.25V579.76H1756.74V580.20H1760.23V581.01H1763.72V580.17H1767.21V580.12H1770.70V581.47H1774.19V579.91H1777.68V583.27H1781.17V582.30H1784.66V581.15H1788.15V580.93H1788.50" stroke="#136f6c" stroke-width="2.2"/>
<path d="M1090.50,585.90H1093.64V585.90H1097.13V585.90H1100.62V585.90H1104.11V585.90H1107.60V585.90H1111.09V585.90H1114.58V585.90H1118.07V585.90H1121.56V585.90H1125.05V585.90H1128.54V585.90H1132.03V585.90H1135.52V585.90H1139.01V585.90H1142.50V585.90H1145.99V585.90H1149.48V585.90H1152.97V585.90H1156.46V585.90H1159.95V585.90H1163.44V585.90H1166.93V585.77H1170.42V585.62H1173.91V585.28H1177.40V585.09H1180.89V584.89H1184.38V584.95H1187.87V584.86H1191.36V584.97H1194.85V585.01H1198.34V584.94H1201.83V584.95H1205.32V585.00H1208.81V584.99H1212.30V584.93H1215.79V584.93H1219.28V585.00H1222.77V585.00H1226.26V585.09H1229.75V584.87H1233.24V584.99H1236.73V584.89H1240.22V584.95H1243.71V584.85H1247.20V584.88H1250.69V584.95H1254.18V584.88H1257.67V585.03H1261.16V584.90H1264.65V585.07H1268.14V584.95H1271.63V584.91H1275.12V584.96H1278.61V585.00H1282.10V585.02H1285.59V584.99H1289.08V584.91H1292.57V584.92H1296.06V584.99H1299.55V585.02H1303.04V584.84H1306.53V584.92H1310.02V584.80H1313.51V584.75H1317.00V584.48H1320.49V584.29H1323.98V584.03H1327.47V583.82H1330.96V583.64H1334.45V583.02H1337.94V582.41H1341.43V582.50H1344.92V581.50H1348.41V580.00H1351.90V578.50H1355.39V575.00H1358.88V570.81H1362.37V562.01H1365.86V555.01H1369.35V547.01H1372.84V538.02H1376.33V530.02H1379.82V516.03H1383.31V502.03H1386.80V485.04H1390.29V468.04H1393.78V456.05H1397.27V446.05H1400.76V432.06H1404.25V418.06H1407.74V403.07H1411.23V390.77H1414.72V355.89H1418.21V337.39H1421.70V304.11H1425.19V278.62H1428.68V263.92H1432.17V221.14H1435.66V237.83H1439.15V242.43H1442.64V258.52H1446.13V265.52H1449.62V279.32H1453.11V288.11H1456.60V313.90H1460.09V321.10H1463.58V334.40H1467.07V366.18H1470.56V394.87H1474.05V466.95H1477.54V466.95H1481.03V498.03H1484.52V525.02H1488.01V553.01H1491.50V573.40H1494.99V581.60H1498.48V583.51H1501.97V583.89H1505.46V584.45H1508.95V584.60H1512.44V584.66H1515.93V584.67H1519.42V584.75H1522.91V584.68H1526.40V584.86H1529.89V584.89H1533.38V584.94H1536.87V584.89H1540.36V585.00H1543.85V585.03H1547.34V584.98H1550.83V584.99H1554.32V585.05H1557.81V585.25H1561.30V585.19H1564.79V585.23H1568.28V585.26H1571.77V585.25H1575.26V585.19H1578.75V585.30H1582.24V585.31H1585.73V585.25H1589.22V585.28H1592.71V585.28H1596.20V585.31H1599.69V585.28H1603.18V585.26H1606.67V585.36H1610.16V585.35H1613.65V585.24H1617.14V585.25H1620.63V585.30H1624.12V585.32H1627.61V585.29H1631.10V585.33H1634.59V585.30H1638.08V585.21H1641.57V585.28H1645.06V585.23H1648.55V585.29H1652.04V585.27H1655.53V585.23H1659.02V585.34H1662.51V585.30H1666.00V585.29H1669.49V585.27H1672.98V585.22H1676.47V585.25H1679.96V585.34H1683.45V585.29H1686.94V585.32H1690.43V585.21H1693.92V584.80H1697.41V584.79H1700.90V584.45H1704.39V584.15H1707.88V583.35H1711.37V582.84H1714.86V582.30H1718.35V581.68H1721.84V580.50H1725.33V580.47H1728.82V579.66H1732.31V579.17H1735.80V577.26H1739.29V577.48H1742.78V577.30H1746.27V576.47H1749.76V574.44H1753.25V575.82H1756.74V574.99H1760.23V575.23H1763.72V575.76H1767.21V576.41H1770.70V576.42H1774.19V576.64H1777.68V577.98H1781.17V575.24H1784.66V576.46H1788.15V577.03H1788.50" stroke="#3ad8ea" stroke-width="1.9"/>
<path d="M1090.50,585.90H1093.64V585.90H1097.13V585.90H1100.62V585.90H1104.11V585.90H1107.60V585.90H1111.09V585.90H1114.58V585.90H1118.07V585.90H1121.56V585.90H1125.05V585.68H1128.54V585.45H1132.03V585.17H1135.52V585.29H1139.01V583.42H1142.50V581.42H1145.99V581.62H1149.48V580.28H1152.97V578.73H1156.46V580.69H1159.95V573.78H1163.44V579.09H1166.93V575.44H1170.42V569.25H1173.91V574.34H1177.40V572.72H1180.89V572.90H1184.38V569.89H1187.87V574.04H1191.36V569.67H1194.85V563.87H1198.34V566.76H1201.83V567.43H1205.32V565.80H1208.81V565.40H1212.30V565.75H1215.79V564.70H1219.28V569.42H1222.77V564.43H1226.26V567.04H1229.75V563.82H1233.24V565.57H1236.73V567.68H1240.22V565.68H1243.71V567.70H1247.20V563.33H1250.69V565.58H1254.18V563.68H1257.67V567.93H1261.16V562.02H1264.65V566.19H1268.14V562.62H1271.63V563.75H1275.12V568.01H1278.61V564.96H1282.10V566.87H1285.59V564.84H1289.08V562.66H1292.57V564.30H1296.06V563.51H1299.55V568.38H1303.04V565.44H1306.53V565.13H1310.02V563.59H1313.51V567.31H1317.00V564.77H1320.49V565.10H1323.98V569.36H1327.47V568.34H1330.96V565.16H1334.45V568.46H1337.94V568.14H1341.43V563.11H1344.92V563.99H1348.41V564.68H1351.90V563.51H1355.39V564.58H1358.88V561.51H1362.37V561.01H1365.86V561.01H1369.35V559.11H1372.84V557.01H1376.33V555.01H1379.82V550.91H1383.31V546.02H1386.80V541.72H1390.29V538.62H1393.78V536.02H1397.27V534.52H1400.76V531.42H1404.25V520.22H1407.74V514.03H1411.23V495.63H1414.72V479.24H1418.21V461.85H1421.70V453.65H1425.19V430.66H1428.68V413.27H1432.17V421.46H1435.66V413.27H1439.15V416.36H1442.64V424.56H1446.13V419.36H1449.62V430.66H1453.11V438.06H1456.60V442.05H1460.09V456.05H1463.58V467.05H1467.07V487.04H1470.56V507.03H1474.05V508.03H1477.54V531.02H1481.03V553.01H1484.52V565.01H1488.01V573.00H1491.50V576.00H1494.99V578.00H1498.48V579.00H1501.97V580.67H1505.46V580.91H1508.95V580.23H1512.44V579.62H1515.93V581.98H1519.42V581.97H1522.91V582.49H1526.40V583.61H1529.89V582.79H1533.38V582.74H1536.87V584.04H1540.36V583.50H1543.85V584.31H1547.34V583.64H1550.83V583.67H1554.32V584.36H1557.81V585.02H1561.30V584.43H1564.79V584.85H1568.28V584.86H1571.77V584.53H1575.26V584.04H1578.75V584.54H1582.24V584.59H1585.73V585.12H1589.22V584.73H1592.71V584.99H1596.20V584.39H1599.69V584.73H1603.18V584.58H1606.67V584.58H1610.16V584.64H1613.65V584.30H1617.14V584.45H1620.63V584.70H1624.12V584.57H1627.61V584.46H1631.10V584.22H1634.59V584.60H1638.08V584.22H1641.57V584.83H1645.06V584.73H1648.55V585.09H1652.04V584.43H1655.53V584.96H1659.02V584.96H1662.51V584.42H1666.00V584.82H1669.49V584.88H1672.98V584.39H1676.47V584.72H1679.96V584.40H1683.45V584.78H1686.94V584.46H1690.43V584.35H1693.92V584.64H1697.41V584.15H1700.90V584.82H1704.39V584.86H1707.88V584.88H1711.37V584.78H1714.86V585.14H1718.35V585.21H1721.84V585.08H1725.33V584.90H1728.82V585.20H1732.31V585.36H1735.80V585.15H1739.29V585.02H1742.78V585.23H1746.27V585.11H1749.76V585.46H1753.25V585.12H1756.74V585.11H1760.23V585.02H1763.72V585.07H1767.21V584.99H1770.70V585.31H1774.19V585.01H1777.68V585.43H1781.17V585.24H1784.66V584.93H1788.15V584.97H1788.50" stroke="#06068e" stroke-width="1.9"/>
</g>
<rect x="183.6" y="33.0" width="715.9" height="556.2" fill="none" stroke="#000" stroke-width="1.4"/>
<path d="M183.6,589.40h11 M183.6,557.79h5.5 M183.6,539.30h5.5 M183.6,526.18h5.5 M183.6,516.01h5.5 M183.6,507.69h5.5 M183.6,500.66h5.5 M183.6,494.58h5.5 M183.6,489.20h5.5 M183.6,484.40h11 M183.6,452.79h5.5 M183.6,434.30h5.5 M183.6,421.18h5.5 M183.6,411.01h5.5 M183.6,402.69h5.5 M183.6,395.66h5.5 M183.6,389.58h5.5 M183.6,384.20h5.5 M183.6,379.40h11 M183.6,347.79h5.5 M183.6,329.30h5.5 M183.6,316.18h5.5 M183.6,306.01h5.5 M183.6,297.69h5.5 M183.6,290.66h5.5 M183.6,284.58h5.5 M183.6,279.20h5.5 M183.6,274.40h11 M183.6,242.79h5.5 M183.6,224.30h5.5 M183.6,211.18h5.5 M183.6,201.01h5.5 M183.6,192.69h5.5 M183.6,185.66h5.5 M183.6,179.58h5.5 M183.6,174.20h5.5 M183.6,169.40h11 M183.6,137.79h5.5 M183.6,119.30h5.5 M183.6,106.18h5.5 M183.6,96.01h5.5 M183.6,87.69h5.5 M183.6,80.66h5.5 M183.6,74.58h5.5 M183.6,69.20h5.5 M183.6,64.40h11 M183.6,32.79h5.5 M183.60,589.2v-11 M207.46,589.2v-5.5 M231.33,589.2v-5.5 M255.19,589.2v-5.5 M279.05,589.2v-5.5 M302.92,589.2v-11 M326.78,589.2v-5.5 M350.64,589.2v-5.5 M374.51,589.2v-5.5 M398.37,589.2v-5.5 M422.23,589.2v-11 M446.10,589.2v-5.5 M469.96,589.2v-5.5 M493.82,589.2v-5.5 M517.69,589.2v-5.5 M541.55,589.2v-11 M565.41,589.2v-5.5 M589.28,589.2v-5.5 M613.14,589.2v-5.5 M637.00,589.2v-5.5 M660.87,589.2v-11 M684.73,589.2v-5.5 M708.59,589.2v-5.5 M732.46,589.2v-5.5 M756.32,589.2v-5.5 M780.18,589.2v-11 M804.05,589.2v-5.5 M827.91,589.2v-5.5 M851.77,589.2v-5.5 M875.64,589.2v-5.5 M899.50,589.2v-11" stroke="#000" stroke-width="1.3" fill="none"/>
<text x="97.46" y="602.00" font-size="36.72" font-family='"Liberation Sans", sans-serif' textLength="40.05" lengthAdjust="spacingAndGlyphs" fill="#000" >10</text>
<rect x="140.8" y="580.80" width="14.4" height="2.0" fill="#000"/>
<text x="156.29" y="588.90" font-size="24.58" font-family='"Liberation Sans", sans-serif' textLength="14.53" lengthAdjust="spacingAndGlyphs" fill="#000" >2</text>
<text x="97.46" y="497.00" font-size="36.72" font-family='"Liberation Sans", sans-serif' textLength="40.05" lengthAdjust="spacingAndGlyphs" fill="#000" >10</text>
<rect x="140.8" y="475.80" width="14.4" height="2.0" fill="#000"/>
<text x="156.44" y="483.90" font-size="24.58" font-family='"Liberation Sans", sans-serif' textLength="14.32" lengthAdjust="spacingAndGlyphs" fill="#000" >1</text>
<text x="116.87" y="392.00" font-size="36.72" font-family='"Liberation Sans", sans-serif' textLength="39.94" lengthAdjust="spacingAndGlyphs" fill="#000" >10</text>
<text x="158.41" y="378.90" font-size="24.58" font-family='"Liberation Sans", sans-serif' textLength="12.68" lengthAdjust="spacingAndGlyphs" fill="#000" >0</text>
<text x="116.87" y="287.00" font-size="36.72" font-family='"Liberation Sans", sans-serif' textLength="39.94" lengthAdjust="spacingAndGlyphs" fill="#000" >10</text>
<text x="157.37" y="273.90" font-size="24.58" font-family='"Liberation Sans", sans-serif' textLength="14.06" lengthAdjust="spacingAndGlyphs" fill="#000" >1</text>
<text x="116.87" y="182.00" font-size="36.72" font-family='"Liberation Sans", sans-serif' textLength="39.94" lengthAdjust="spacingAndGlyphs" fill="#000" >10</text>
<text x="158.10" y="168.90" font-size="24.58" font-family='"Liberation Sans", sans-serif' textLength="13.31" lengthAdjust="spacingAndGlyphs" fill="#000" >2</text>
<text x="116.87" y="77.00" font-size="36.72" font-family='"Liberation Sans", sans-serif' textLength="39.94" lengthAdjust="spacingAndGlyphs" fill="#000" >10</text>
<text x="158.42" y="63.90" font-size="24.58" font-family='"Liberation Sans", sans-serif' textLength="12.79" lengthAdjust="spacingAndGlyphs" fill="#000" >3</text>
<text x="282.28" y="627.20" font-size="36.72" font-family='"Liberation Sans", sans-serif' textLength="39.94" lengthAdjust="spacingAndGlyphs" fill="#000" >10</text>
<text x="402.57" y="627.20" font-size="36.72" font-family='"Liberation Sans", sans-serif' textLength="38.93" lengthAdjust="spacingAndGlyphs" fill="#000" >20</text>
<text x="522.33" y="627.20" font-size="36.72" font-family='"Liberation Sans", sans-serif' textLength="38.47" lengthAdjust="spacingAndGlyphs" fill="#000" >30</text>
<text x="642.18" y="627.20" font-size="36.72" font-family='"Liberation Sans", sans-serif' textLength="37.91" lengthAdjust="spacingAndGlyphs" fill="#000" >40</text>
<text x="760.90" y="627.20" font-size="36.72" font-family='"Liberation Sans", sans-serif' textLength="38.54" lengthAdjust="spacingAndGlyphs" fill="#000" >50</text>
<text x="879.82" y="627.20" font-size="36.72" font-family='"Liberation Sans", sans-serif' textLength="38.95" lengthAdjust="spacingAndGlyphs" fill="#000" >60</text>
<text x="409.11" y="664.50" font-size="36.05" font-family='"Liberation Sans", sans-serif' textLength="263.77" lengthAdjust="spacingAndGlyphs" fill="#000" >Light yield [p.e.]</text>
<text transform="translate(86.30,437.90) rotate(-90)" x="-2.62" y="0" font-size="31.11" font-family='"Liberation Sans", sans-serif' textLength="258.94" lengthAdjust="spacingAndGlyphs">rate [Hz/0.1pe]</text>
<text x="511.55" y="739.60" font-size="44.65" font-family='"Liberation Serif", serif' font-weight="bold" textLength="54.51" lengthAdjust="spacingAndGlyphs" fill="#000" >(a)</text>
<rect x="1090.5" y="45.6" width="698.0" height="540.3" fill="none" stroke="#000" stroke-width="1.4"/>
<path d="M1090.5,585.90h10.3 M1090.5,508.71h10.3 M1090.5,431.53h10.3 M1090.5,354.34h10.3 M1090.5,277.16h10.3 M1090.5,199.97h10.3 M1090.5,122.79h10.3 M1090.5,45.60h10.3 M1090.50,585.9v-10.3 M1160.30,585.9v-5.4 M1230.10,585.9v-10.3 M1299.90,585.9v-5.4 M1369.70,585.9v-10.3 M1439.50,585.9v-5.4 M1509.30,585.9v-10.3 M1579.10,585.9v-5.4 M1648.90,585.9v-10.3 M1718.70,585.9v-5.4 M1788.50,585.9v-10.3" stroke="#000" stroke-width="1.3" fill="none"/>
<text x="1055.73" y="598.50" font-size="35.31" font-family='"Liberation Sans", sans-serif' textLength="18.15" lengthAdjust="spacingAndGlyphs" fill="#000" >0</text>
<text x="1015.09" y="521.31" font-size="35.31" font-family='"Liberation Sans", sans-serif' textLength="58.89" lengthAdjust="spacingAndGlyphs" fill="#000" >500</text>
<text x="993.49" y="444.13" font-size="35.31" font-family='"Liberation Sans", sans-serif' textLength="80.52" lengthAdjust="spacingAndGlyphs" fill="#000" >1000</text>
<text x="993.49" y="366.94" font-size="35.31" font-family='"Liberation Sans", sans-serif' textLength="80.52" lengthAdjust="spacingAndGlyphs" fill="#000" >1500</text>
<text x="994.45" y="289.76" font-size="35.31" font-family='"Liberation Sans", sans-serif' textLength="79.55" lengthAdjust="spacingAndGlyphs" fill="#000" >2000</text>
<text x="994.45" y="212.57" font-size="35.31" font-family='"Liberation Sans", sans-serif' textLength="79.55" lengthAdjust="spacingAndGlyphs" fill="#000" >2500</text>
<text x="994.90" y="135.39" font-size="35.31" font-family='"Liberation Sans", sans-serif' textLength="79.09" lengthAdjust="spacingAndGlyphs" fill="#000" >3000</text>
<text x="994.90" y="58.20" font-size="35.31" font-family='"Liberation Sans", sans-serif' textLength="79.09" lengthAdjust="spacingAndGlyphs" fill="#000" >3500</text>
<text x="1060.40" y="628.80" font-size="35.31" font-family='"Liberation Sans", sans-serif' textLength="59.80" lengthAdjust="spacingAndGlyphs" fill="#000" >240</text>
<text x="1200.00" y="628.80" font-size="35.31" font-family='"Liberation Sans", sans-serif' textLength="59.80" lengthAdjust="spacingAndGlyphs" fill="#000" >280</text>
<text x="1340.05" y="628.80" font-size="35.31" font-family='"Liberation Sans", sans-serif' textLength="59.34" lengthAdjust="spacingAndGlyphs" fill="#000" >320</text>
<text x="1479.65" y="628.80" font-size="35.31" font-family='"Liberation Sans", sans-serif' textLength="59.34" lengthAdjust="spacingAndGlyphs" fill="#000" >360</text>
<text x="1619.79" y="628.80" font-size="35.31" font-family='"Liberation Sans", sans-serif' textLength="58.78" lengthAdjust="spacingAndGlyphs" fill="#000" >400</text>
<text x="1759.39" y="628.80" font-size="35.31" font-family='"Liberation Sans", sans-serif' textLength="58.78" lengthAdjust="spacingAndGlyphs" fill="#000" >440</text>
<text x="1332.16" y="665.00" font-size="34.74" font-family='"Liberation Sans", sans-serif' textLength="213.87" lengthAdjust="spacingAndGlyphs" fill="#000" >Hit times [ns]</text>
<text transform="translate(984.00,444.10) rotate(-90)" x="-0.17" y="0" font-size="29.72" font-family='"Liberation Sans", sans-serif' textLength="259.09" lengthAdjust="spacingAndGlyphs"># of events [/1]</text>
<text x="1482.95" y="739.60" font-size="44.65" font-family='"Liberation Serif", serif' font-weight="bold" textLength="57.00" lengthAdjust="spacingAndGlyphs" fill="#000" >(b)</text>
<rect x="397.8" y="44.8" width="490.9" height="139.4" rx="4" ry="4" fill="#fff" fill-opacity="0.8" stroke="#d3d3d3" stroke-width="1.3"/>
<path d="M405.4,62.4H449.9" stroke="#7f2a90" stroke-width="2.2"/>
<text x="465.84" y="70.80" font-size="24.58" font-family='"Liberation Sans", sans-serif' textLength="152.89" lengthAdjust="spacingAndGlyphs" fill="#000" >SiPM 1.00 p.e.</text>
<path d="M405.4,96.2H449.9" stroke="#f5a623" stroke-width="3.2"/>
<text x="465.84" y="104.60" font-size="24.58" font-family='"Liberation Sans", sans-serif' textLength="152.89" lengthAdjust="spacingAndGlyphs" fill="#000" >SiPM 2.00 p.e.</text>
<path d="M405.4,130.1H449.9" stroke="#3fe0e6" stroke-width="2.2"/>
<text x="465.84" y="138.50" font-size="24.58" font-family='"Liberation Sans", sans-serif' textLength="152.89" lengthAdjust="spacingAndGlyphs" fill="#000" >SiPM 3.00 p.e.</text>
<path d="M405.4,162.9H449.9" stroke="#0a0a9a" stroke-width="2.2"/>
<text x="465.84" y="171.30" font-size="24.58" font-family='"Liberation Sans", sans-serif' textLength="152.89" lengthAdjust="spacingAndGlyphs" fill="#000" >SiPM 4.00 p.e.</text>
<path d="M660.5,62.4H704" stroke="#000" stroke-width="2.0" stroke-dasharray="7.8,3.9"/>
<text x="720.65" y="70.80" font-size="24.58" font-family='"Liberation Sans", sans-serif' textLength="160.46" lengthAdjust="spacingAndGlyphs" fill="#000" >SPMT 0.25 p.e.</text>
<path d="M660.5,96.2H704" stroke="#9acd32" stroke-width="2.6" stroke-dasharray="7.8,3.9"/>
<text x="720.65" y="104.60" font-size="24.58" font-family='"Liberation Sans", sans-serif' textLength="147.61" lengthAdjust="spacingAndGlyphs" fill="#000" >SPMT 0.5 p.e.</text>
<path d="M660.5,130.1H704" stroke="#e8a5b8" stroke-width="2.2" stroke-dasharray="7.8,3.9"/>
<text x="720.65" y="138.50" font-size="24.58" font-family='"Liberation Sans", sans-serif' textLength="160.46" lengthAdjust="spacingAndGlyphs" fill="#000" >SPMT 0.75 p.e.</text>
<path d="M660.5,162.9H704" stroke="#cc1f1f" stroke-width="2.2" stroke-dasharray="7.8,3.9"/>
<text x="720.65" y="171.30" font-size="24.58" font-family='"Liberation Sans", sans-serif' textLength="160.46" lengthAdjust="spacingAndGlyphs" fill="#000" >SPMT 1.00 p.e.</text>
<rect x="1595.1" y="59.7" width="180.3" height="170.6" rx="4" ry="4" fill="#fff" fill-opacity="0.8" stroke="#d3d3d3" stroke-width="1.3"/>
<path d="M1603.9,81.7H1658" stroke="#c0262b" stroke-width="2.2"/>
<text x="1678.70" y="91.90" font-size="28.95" font-family='"Liberation Sans", sans-serif' textLength="85.29" lengthAdjust="spacingAndGlyphs" fill="#000" >SiPM 1</text>
<path d="M1603.9,122.4H1658" stroke="#177670" stroke-width="3.0"/>
<text x="1678.70" y="132.60" font-size="28.95" font-family='"Liberation Sans", sans-serif' textLength="85.29" lengthAdjust="spacingAndGlyphs" fill="#000" >SiPM 2</text>
<path d="M1603.9,162.8H1658" stroke="#3ad8e8" stroke-width="2.4"/>
<text x="1678.70" y="173.00" font-size="28.95" font-family='"Liberation Sans", sans-serif' textLength="85.29" lengthAdjust="spacingAndGlyphs" fill="#000" >SiPM 3</text>
<path d="M1603.9,204.0H1658" stroke="#10107a" stroke-width="2.2"/>
<text x="1678.70" y="214.20" font-size="28.95" font-family='"Liberation Sans", sans-serif' textLength="85.29" lengthAdjust="spacingAndGlyphs" fill="#000" >SiPM 4</text>
</svg></body></html>
